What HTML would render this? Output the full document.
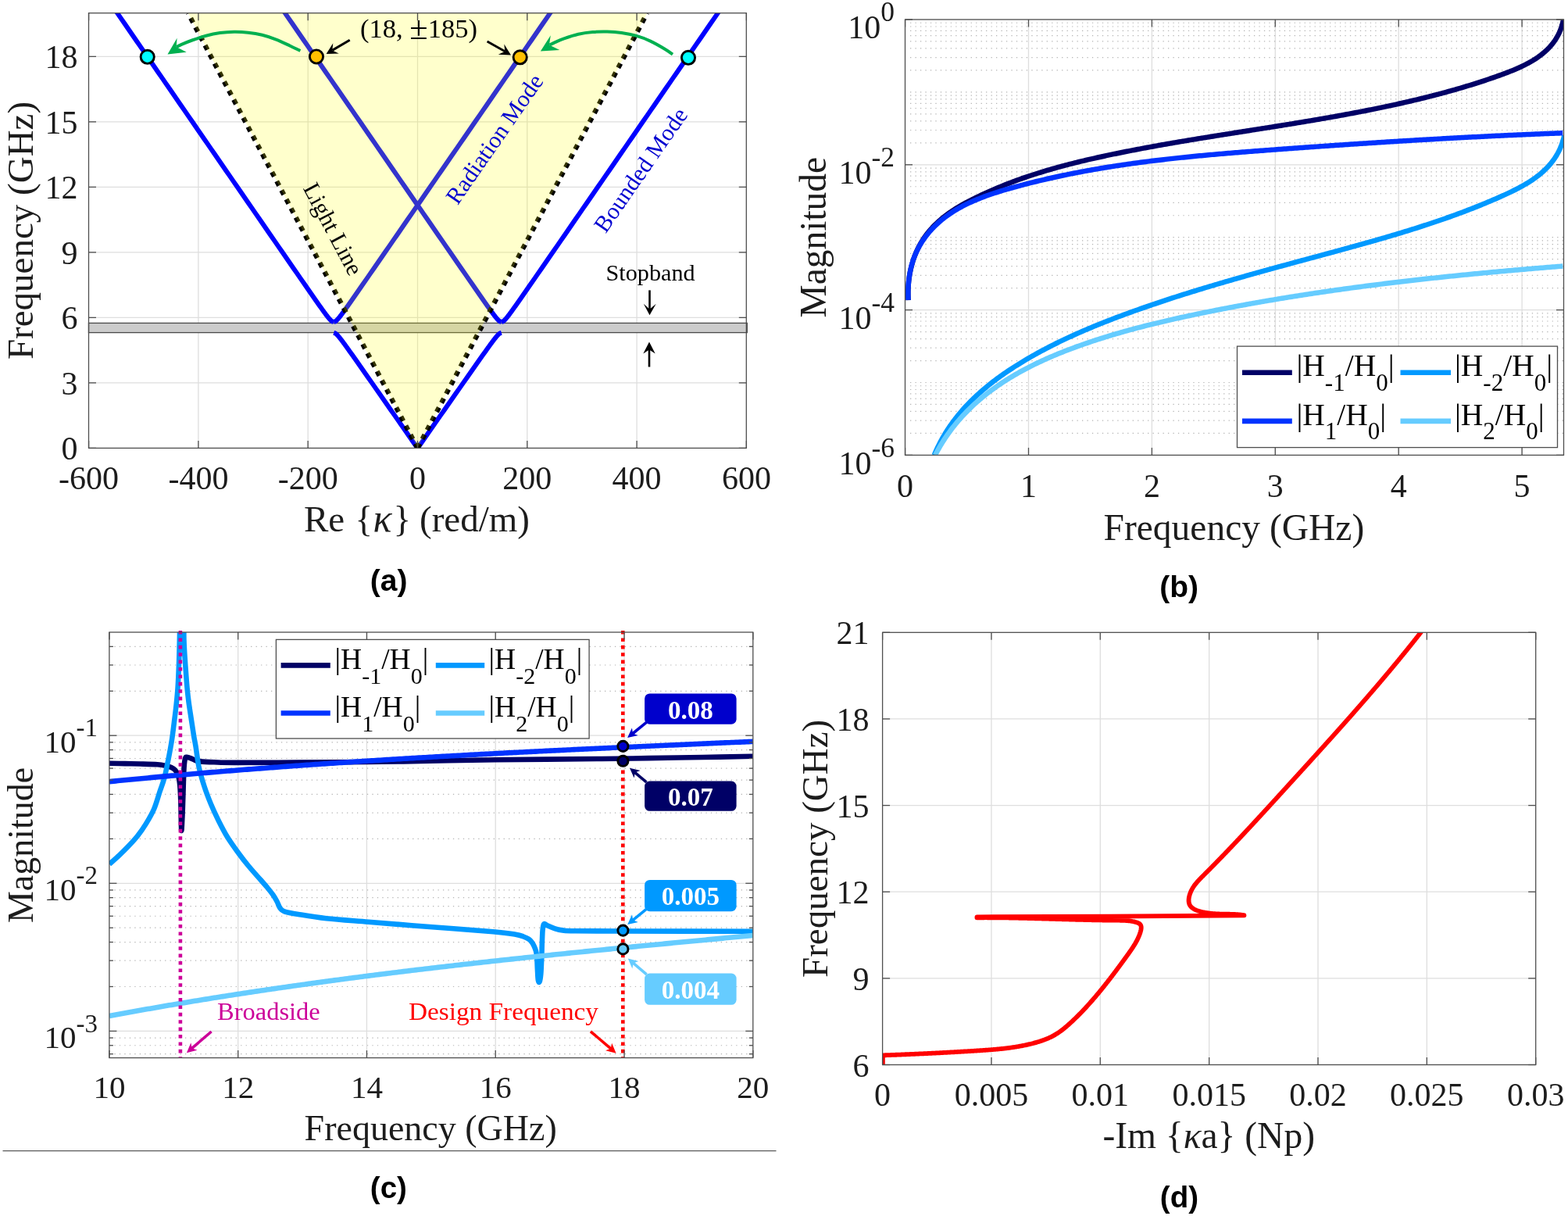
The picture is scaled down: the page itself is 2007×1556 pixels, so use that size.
<!DOCTYPE html>
<html><head><meta charset="utf-8"><title>Figure</title>
<style>html,body{margin:0;padding:0;background:#fff;}svg{display:block;}</style>
</head><body>
<svg xmlns="http://www.w3.org/2000/svg" width="2007" height="1556" viewBox="0 0 2007 1556">
<rect width="2007" height="1556" fill="#fff"/>
<clipPath id="ca"><rect x="113.5" y="16.7" width="841.8" height="556.7"/></clipPath>
<line x1="253.9" y1="16.7" x2="253.9" y2="573.4" stroke="#dedede" stroke-width="1.3" />
<line x1="394.2" y1="16.7" x2="394.2" y2="573.4" stroke="#dedede" stroke-width="1.3" />
<line x1="534.5" y1="16.7" x2="534.5" y2="573.4" stroke="#dedede" stroke-width="1.3" />
<line x1="674.8" y1="16.7" x2="674.8" y2="573.4" stroke="#dedede" stroke-width="1.3" />
<line x1="815.1" y1="16.7" x2="815.1" y2="573.4" stroke="#dedede" stroke-width="1.3" />
<line x1="113.5" y1="489.89" x2="955.3" y2="489.89" stroke="#dedede" stroke-width="1.3" />
<line x1="113.5" y1="406.39" x2="955.3" y2="406.39" stroke="#dedede" stroke-width="1.3" />
<line x1="113.5" y1="322.88" x2="955.3" y2="322.88" stroke="#dedede" stroke-width="1.3" />
<line x1="113.5" y1="239.38" x2="955.3" y2="239.38" stroke="#dedede" stroke-width="1.3" />
<line x1="113.5" y1="155.88" x2="955.3" y2="155.88" stroke="#dedede" stroke-width="1.3" />
<line x1="113.5" y1="72.37" x2="955.3" y2="72.37" stroke="#dedede" stroke-width="1.3" />
<rect x="113.5" y="413.4" width="842.8" height="12.2" fill="#cccccc" stroke="#4a4a4a" stroke-width="1.3"/>
<path d="M641.83 411.96 L643.69 411.4 L644.52 410.84 L645.19 410.29 L645.78 409.73 L646.33 409.17 L646.85 408.62 L647.34 408.06 L647.83 407.5 L648.29 406.95 L648.75 406.39 L649.2 405.83 L649.64 405.28 L650.08 404.72 L650.51 404.16 L650.93 403.61 L651.36 403.05 L651.78 402.49 L652.19 401.94 L652.61 401.38 L653.02 400.82 L653.43 400.27 L653.84 399.71 L654.25 399.15 L654.66 398.6 L655.06 398.04 L655.46 397.48 L655.87 396.93 L656.27 396.37 L656.67 395.81 L657.07 395.26 L657.47 394.7 L657.86 394.14 L658.26 393.59 L658.66 393.03 L659.05 392.47 L659.45 391.92 L664.36 384.96 L669.24 378 L674.09 371.04 L678.93 364.08 L683.76 357.12 L688.58 350.16 L693.4 343.2 L698.22 336.25 L703.03 329.29 L707.85 322.33 L712.66 315.37 L717.47 308.41 L722.28 301.45 L727.09 294.49 L731.89 287.53 L736.7 280.58 L741.51 273.62 L746.31 266.66 L751.12 259.7 L755.92 252.74 L760.73 245.78 L765.53 238.82 L770.34 231.86 L775.14 224.91 L779.95 217.95 L784.75 210.99 L789.56 204.03 L794.36 197.07 L799.16 190.11 L803.97 183.15 L808.77 176.19 L813.57 169.24 L818.38 162.28 L823.18 155.32 L827.98 148.36 L832.79 141.4 L837.59 134.44 L842.39 127.48 L847.19 120.52 L852 113.57 L856.8 106.61 L861.6 99.65 L866.41 92.69 L871.21 85.73 L876.01 78.77 L880.81 71.81 L885.62 64.85 L890.42 57.9 L895.22 50.94 L900.02 43.98 L904.83 37.02 L909.63 30.06 L914.43 23.1 L919.23 16.14 L924.03 9.18 L928.84 2.23" fill="none" stroke="#0000ff" stroke-width="6" clip-path="url(#ca)" stroke-linejoin="round"/>
<path d="M427.17 411.96 L425.31 411.4 L424.48 410.84 L423.81 410.29 L423.22 409.73 L422.67 409.17 L422.15 408.62 L421.66 408.06 L421.17 407.5 L420.71 406.95 L420.25 406.39 L419.8 405.83 L419.36 405.28 L418.92 404.72 L418.49 404.16 L418.07 403.61 L417.64 403.05 L417.22 402.49 L416.81 401.94 L416.39 401.38 L415.98 400.82 L415.57 400.27 L415.16 399.71 L414.75 399.15 L414.34 398.6 L413.94 398.04 L413.54 397.48 L413.13 396.93 L412.73 396.37 L412.33 395.81 L411.93 395.26 L411.53 394.7 L411.14 394.14 L410.74 393.59 L410.34 393.03 L409.95 392.47 L409.55 391.92 L404.64 384.96 L399.76 378 L394.91 371.04 L390.07 364.08 L385.24 357.12 L380.42 350.16 L375.6 343.2 L370.78 336.25 L365.97 329.29 L361.15 322.33 L356.34 315.37 L351.53 308.41 L346.72 301.45 L341.91 294.49 L337.11 287.53 L332.3 280.58 L327.49 273.62 L322.69 266.66 L317.88 259.7 L313.08 252.74 L308.27 245.78 L303.47 238.82 L298.66 231.86 L293.86 224.91 L289.05 217.95 L284.25 210.99 L279.44 204.03 L274.64 197.07 L269.84 190.11 L265.03 183.15 L260.23 176.19 L255.43 169.24 L250.62 162.28 L245.82 155.32 L241.02 148.36 L236.21 141.4 L231.41 134.44 L226.61 127.48 L221.81 120.52 L217 113.57 L212.2 106.61 L207.4 99.65 L202.59 92.69 L197.79 85.73 L192.99 78.77 L188.19 71.81 L183.38 64.85 L178.58 57.9 L173.78 50.94 L168.98 43.98 L164.17 37.02 L159.37 30.06 L154.57 23.1 L149.77 16.14 L144.97 9.18 L140.16 2.23" fill="none" stroke="#0000ff" stroke-width="6" clip-path="url(#ca)" stroke-linejoin="round"/>
<path d="M427.17 411.96 L429.03 411.4 L429.86 410.84 L430.53 410.29 L431.12 409.73 L431.67 409.17 L432.19 408.62 L432.69 408.06 L433.17 407.5 L433.63 406.95 L434.09 406.39 L434.54 405.83 L434.98 405.28 L435.42 404.72 L435.85 404.16 L436.28 403.61 L436.7 403.05 L437.12 402.49 L437.54 401.94 L437.95 401.38 L438.36 400.82 L438.77 400.27 L439.18 399.71 L439.59 399.15 L440 398.6 L440.4 398.04 L440.8 397.48 L441.21 396.93 L441.61 396.37 L442.01 395.81 L442.41 395.26 L442.81 394.7 L443.21 394.14 L443.6 393.59 L444 393.03 L444.4 392.47 L444.79 391.92 L449.7 384.96 L454.58 378 L459.43 371.04 L464.27 364.08 L469.1 357.12 L473.92 350.16 L478.74 343.2 L483.56 336.25 L488.38 329.29 L493.19 322.33 L498 315.37 L502.81 308.41 L507.62 301.45 L512.43 294.49 L517.23 287.53 L522.04 280.58 L526.85 273.62 L531.65 266.66 L536.46 259.7 L541.27 252.74 L546.07 245.78 L550.88 238.82 L555.68 231.86 L560.48 224.91 L565.29 217.95 L570.09 210.99 L574.9 204.03 L579.7 197.07 L584.5 190.11 L589.31 183.15 L594.11 176.19 L598.91 169.24 L603.72 162.28 L608.52 155.32 L613.32 148.36 L618.13 141.4 L622.93 134.44 L627.73 127.48 L632.54 120.52 L637.34 113.57 L642.14 106.61 L646.94 99.65 L651.75 92.69 L656.55 85.73 L661.35 78.77 L666.15 71.81 L670.96 64.85 L675.76 57.9 L680.56 50.94 L685.36 43.98 L690.17 37.02 L694.97 30.06 L699.77 23.1 L704.57 16.14 L709.38 9.18 L714.18 2.23" fill="none" stroke="#0000ff" stroke-width="6" clip-path="url(#ca)" stroke-linejoin="round"/>
<path d="M641.83 411.96 L639.97 411.4 L639.14 410.84 L638.47 410.29 L637.88 409.73 L637.33 409.17 L636.81 408.62 L636.31 408.06 L635.83 407.5 L635.37 406.95 L634.91 406.39 L634.46 405.83 L634.02 405.28 L633.58 404.72 L633.15 404.16 L632.72 403.61 L632.3 403.05 L631.88 402.49 L631.46 401.94 L631.05 401.38 L630.64 400.82 L630.23 400.27 L629.82 399.71 L629.41 399.15 L629 398.6 L628.6 398.04 L628.2 397.48 L627.79 396.93 L627.39 396.37 L626.99 395.81 L626.59 395.26 L626.19 394.7 L625.79 394.14 L625.4 393.59 L625 393.03 L624.6 392.47 L624.21 391.92 L619.3 384.96 L614.42 378 L609.57 371.04 L604.73 364.08 L599.9 357.12 L595.08 350.16 L590.26 343.2 L585.44 336.25 L580.62 329.29 L575.81 322.33 L571 315.37 L566.19 308.41 L561.38 301.45 L556.57 294.49 L551.77 287.53 L546.96 280.58 L542.15 273.62 L537.35 266.66 L532.54 259.7 L527.73 252.74 L522.93 245.78 L518.12 238.82 L513.32 231.86 L508.52 224.91 L503.71 217.95 L498.91 210.99 L494.1 204.03 L489.3 197.07 L484.5 190.11 L479.69 183.15 L474.89 176.19 L470.09 169.24 L465.28 162.28 L460.48 155.32 L455.68 148.36 L450.87 141.4 L446.07 134.44 L441.27 127.48 L436.46 120.52 L431.66 113.57 L426.86 106.61 L422.06 99.65 L417.25 92.69 L412.45 85.73 L407.65 78.77 L402.85 71.81 L398.04 64.85 L393.24 57.9 L388.44 50.94 L383.64 43.98 L378.83 37.02 L374.03 30.06 L369.23 23.1 L364.43 16.14 L359.62 9.18 L354.82 2.23" fill="none" stroke="#0000ff" stroke-width="6" clip-path="url(#ca)" stroke-linejoin="round"/>
<path d="M534.65 573.4 L539.5 566.44 L544.36 559.48 L549.22 552.52 L554.08 545.56 L558.94 538.61 L563.81 531.65 L568.67 524.69 L573.53 517.73 L578.4 510.77 L583.26 503.81 L588.13 496.85 L593 489.89 L597.88 482.94 L602.76 475.98 L607.65 469.02 L612.55 462.06 L617.47 455.1 L622.42 448.14 L622.82 447.59 L623.22 447.03 L623.62 446.47 L624.02 445.92 L624.42 445.36 L624.82 444.8 L625.22 444.25 L625.62 443.69 L626.02 443.13 L626.42 442.58 L626.83 442.02 L627.23 441.46 L627.64 440.91 L628.05 440.35 L628.45 439.79 L628.86 439.24 L629.27 438.68 L629.69 438.12 L630.1 437.57 L630.51 437.01 L630.93 436.45 L631.35 435.9 L631.77 435.34 L632.2 434.78 L632.63 434.23 L633.06 433.67 L633.49 433.11 L633.93 432.55 L634.38 432 L634.83 431.44 L635.3 430.88 L635.77 430.33 L636.25 429.77 L636.76 429.21 L637.28 428.66 L637.83 428.1 L638.44 427.54 L639.11 426.99 L639.95 426.43 L641.83 425.87 L641.83 425.87" fill="none" stroke="#0000ff" stroke-width="6" clip-path="url(#ca)" stroke-linejoin="round"/>
<path d="M534.35 573.4 L529.5 566.44 L524.64 559.48 L519.78 552.52 L514.92 545.56 L510.06 538.61 L505.19 531.65 L500.33 524.69 L495.47 517.73 L490.6 510.77 L485.74 503.81 L480.87 496.85 L476 489.89 L471.12 482.94 L466.24 475.98 L461.35 469.02 L456.45 462.06 L451.53 455.1 L446.58 448.14 L446.18 447.59 L445.78 447.03 L445.38 446.47 L444.98 445.92 L444.58 445.36 L444.18 444.8 L443.78 444.25 L443.38 443.69 L442.98 443.13 L442.58 442.58 L442.17 442.02 L441.77 441.46 L441.36 440.91 L440.95 440.35 L440.55 439.79 L440.14 439.24 L439.73 438.68 L439.31 438.12 L438.9 437.57 L438.49 437.01 L438.07 436.45 L437.65 435.9 L437.23 435.34 L436.8 434.78 L436.37 434.23 L435.94 433.67 L435.51 433.11 L435.07 432.55 L434.62 432 L434.17 431.44 L433.7 430.88 L433.23 430.33 L432.75 429.77 L432.24 429.21 L431.72 428.66 L431.17 428.1 L430.56 427.54 L429.89 426.99 L429.05 426.43 L427.17 425.87 L427.17 425.87" fill="none" stroke="#0000ff" stroke-width="6" clip-path="url(#ca)" stroke-linejoin="round"/>
<path d="M534.5 573.4 L240.66 16.7" fill="none" stroke="#000" stroke-width="6.3" stroke-dasharray="6.3 6.8" clip-path="url(#ca)"/>
<path d="M534.5 573.4 L828.34 16.7" fill="none" stroke="#000" stroke-width="6.3" stroke-dasharray="6.3 6.8" clip-path="url(#ca)"/>
<path d="M534.5 573.4 L240.66 16.7 L828.34 16.7 Z" fill="#ffff00" fill-opacity="0.2"/>
<line x1="113.6" y1="573.4" x2="113.6" y2="563.9" stroke="#4e4e4e" stroke-width="1.3" />
<line x1="113.6" y1="16.7" x2="113.6" y2="26.2" stroke="#4e4e4e" stroke-width="1.3" />
<line x1="253.9" y1="573.4" x2="253.9" y2="563.9" stroke="#4e4e4e" stroke-width="1.3" />
<line x1="253.9" y1="16.7" x2="253.9" y2="26.2" stroke="#4e4e4e" stroke-width="1.3" />
<line x1="394.2" y1="573.4" x2="394.2" y2="563.9" stroke="#4e4e4e" stroke-width="1.3" />
<line x1="394.2" y1="16.7" x2="394.2" y2="26.2" stroke="#4e4e4e" stroke-width="1.3" />
<line x1="534.5" y1="573.4" x2="534.5" y2="563.9" stroke="#4e4e4e" stroke-width="1.3" />
<line x1="534.5" y1="16.7" x2="534.5" y2="26.2" stroke="#4e4e4e" stroke-width="1.3" />
<line x1="674.8" y1="573.4" x2="674.8" y2="563.9" stroke="#4e4e4e" stroke-width="1.3" />
<line x1="674.8" y1="16.7" x2="674.8" y2="26.2" stroke="#4e4e4e" stroke-width="1.3" />
<line x1="815.1" y1="573.4" x2="815.1" y2="563.9" stroke="#4e4e4e" stroke-width="1.3" />
<line x1="815.1" y1="16.7" x2="815.1" y2="26.2" stroke="#4e4e4e" stroke-width="1.3" />
<line x1="955.4" y1="573.4" x2="955.4" y2="563.9" stroke="#4e4e4e" stroke-width="1.3" />
<line x1="955.4" y1="16.7" x2="955.4" y2="26.2" stroke="#4e4e4e" stroke-width="1.3" />
<line x1="113.5" y1="573.4" x2="123" y2="573.4" stroke="#4e4e4e" stroke-width="1.3" />
<line x1="955.3" y1="573.4" x2="945.8" y2="573.4" stroke="#4e4e4e" stroke-width="1.3" />
<line x1="113.5" y1="489.89" x2="123" y2="489.89" stroke="#4e4e4e" stroke-width="1.3" />
<line x1="955.3" y1="489.89" x2="945.8" y2="489.89" stroke="#4e4e4e" stroke-width="1.3" />
<line x1="113.5" y1="406.39" x2="123" y2="406.39" stroke="#4e4e4e" stroke-width="1.3" />
<line x1="955.3" y1="406.39" x2="945.8" y2="406.39" stroke="#4e4e4e" stroke-width="1.3" />
<line x1="113.5" y1="322.88" x2="123" y2="322.88" stroke="#4e4e4e" stroke-width="1.3" />
<line x1="955.3" y1="322.88" x2="945.8" y2="322.88" stroke="#4e4e4e" stroke-width="1.3" />
<line x1="113.5" y1="239.38" x2="123" y2="239.38" stroke="#4e4e4e" stroke-width="1.3" />
<line x1="955.3" y1="239.38" x2="945.8" y2="239.38" stroke="#4e4e4e" stroke-width="1.3" />
<line x1="113.5" y1="155.88" x2="123" y2="155.88" stroke="#4e4e4e" stroke-width="1.3" />
<line x1="955.3" y1="155.88" x2="945.8" y2="155.88" stroke="#4e4e4e" stroke-width="1.3" />
<line x1="113.5" y1="72.37" x2="123" y2="72.37" stroke="#4e4e4e" stroke-width="1.3" />
<line x1="955.3" y1="72.37" x2="945.8" y2="72.37" stroke="#4e4e4e" stroke-width="1.3" />
<rect x="113.5" y="16.7" width="841.8" height="556.7" fill="none" stroke="#4e4e4e" stroke-width="1.3"/>
<path d="M384.4 65 C382.23 63.95 376.55 61.1 371.4 58.7 C366.25 56.3 359.47 52.92 353.5 50.6 C347.53 48.28 341.58 46.28 335.6 44.8 C329.62 43.32 323.58 42.37 317.6 41.7 C311.62 41.03 305.68 40.73 299.7 40.8 C293.72 40.87 287.68 41.28 281.7 42.1 C275.72 42.92 269.77 44.13 263.8 45.7 C257.83 47.27 251.13 49.63 245.9 51.5 C240.67 53.37 235.72 55.45 232.4 56.9 C229.08 58.35 227.07 59.65 226 60.2" fill="none" stroke="#00b050" stroke-width="4" />
<path d="M214.5 69.5 L226.6 48.8 L225.7 60 L238.7 66.8 Z" fill="#00b050"/>
<path d="M861 69.6 C859.32 68.45 855.65 65.53 850.9 62.7 C846.15 59.87 838.65 55.43 832.5 52.6 C826.35 49.77 820.15 47.47 814 45.7 C807.85 43.93 801.73 42.85 795.6 42 C789.47 41.15 783.35 40.75 777.2 40.6 C771.05 40.45 764.85 40.57 758.7 41.1 C752.55 41.63 746.43 42.42 740.3 43.8 C734.17 45.18 726.97 47.63 721.9 49.4 C716.83 51.17 712.98 53.03 709.9 54.4 C706.82 55.77 704.48 57.07 703.4 57.6" fill="none" stroke="#00b050" stroke-width="4" />
<path d="M691.9 65.5 L704.8 45.2 L703 57.6 L716.3 64.1 Z" fill="#00b050"/>
<line x1="447.7" y1="51.3" x2="425.3" y2="64.4" stroke="#000" stroke-width="3" />
<path d="M417.6 69.1 L426.3 55.2 L425.3 64.4 L433.8 68.4 Z" fill="#000"/>
<line x1="623.6" y1="53" x2="646.3" y2="65.8" stroke="#000" stroke-width="3" />
<path d="M654 70.5 L645.3 56.6 L646.3 65.8 L637.8 69.8 Z" fill="#000"/>
<circle cx="188.7" cy="72.8" r="8.6" fill="#00ffff" stroke="#000" stroke-width="2.9"/>
<circle cx="881" cy="73.8" r="8.6" fill="#00ffff" stroke="#000" stroke-width="2.9"/>
<circle cx="405" cy="72.5" r="8.6" fill="#ffc000" stroke="#000" stroke-width="2.9"/>
<circle cx="665.7" cy="73.3" r="8.6" fill="#ffc000" stroke="#000" stroke-width="2.9"/>
<line x1="831.5" y1="371.4" x2="831.5" y2="396.5" stroke="#000" stroke-width="2.6" />
<path d="M831.5 403.2 L823.8 388.8 L831.5 395.8 L839.7 388.8 Z" fill="#000"/>
<line x1="831" y1="469.5" x2="831" y2="446.5" stroke="#000" stroke-width="2.6" />
<path d="M831 437.6 L823.3 452.4 L831 447.4 L838.7 452.4 Z" fill="#000"/>
<text x="832.6" y="358.9" font-size="30" text-anchor="middle" fill="#000" font-family="'Liberation Serif','Times New Roman',serif" font-weight="normal" textLength="114" lengthAdjust="spacingAndGlyphs">Stopband</text>
<text x="536" y="47.9" font-size="34" text-anchor="middle" fill="#000" font-family="'Liberation Serif','Times New Roman',serif" font-weight="normal" textLength="150" lengthAdjust="spacingAndGlyphs">(18, <tspan font-size="42" dy="2.5">&#177;</tspan><tspan dy="-2.5">185)</tspan></text>
<text x="417.46" y="297.74" font-size="30.3" text-anchor="middle" fill="#000" font-family="'Liberation Serif','Times New Roman',serif" transform="rotate(62.2 417.46 297.74)" >Light Line</text>
<text x="641.09" y="183.44" font-size="30" text-anchor="middle" fill="#0000d0" font-family="'Liberation Serif','Times New Roman',serif" transform="rotate(-55.2 641.09 183.44)" >Radiation Mode</text>
<text x="828.29" y="223.14" font-size="30" text-anchor="middle" fill="#0000d0" font-family="'Liberation Serif','Times New Roman',serif" transform="rotate(-55.2 828.29 223.14)" >Bounded Mode</text>
<text x="113.6" y="625.6" font-size="42" text-anchor="middle" fill="#1c1c1c" font-family="'Liberation Serif','Times New Roman',serif" font-weight="normal" >-600</text>
<text x="253.9" y="625.6" font-size="42" text-anchor="middle" fill="#1c1c1c" font-family="'Liberation Serif','Times New Roman',serif" font-weight="normal" >-400</text>
<text x="394.2" y="625.6" font-size="42" text-anchor="middle" fill="#1c1c1c" font-family="'Liberation Serif','Times New Roman',serif" font-weight="normal" >-200</text>
<text x="534.5" y="625.6" font-size="42" text-anchor="middle" fill="#1c1c1c" font-family="'Liberation Serif','Times New Roman',serif" font-weight="normal" >0</text>
<text x="674.8" y="625.6" font-size="42" text-anchor="middle" fill="#1c1c1c" font-family="'Liberation Serif','Times New Roman',serif" font-weight="normal" >200</text>
<text x="815.1" y="625.6" font-size="42" text-anchor="middle" fill="#1c1c1c" font-family="'Liberation Serif','Times New Roman',serif" font-weight="normal" >400</text>
<text x="955.4" y="625.6" font-size="42" text-anchor="middle" fill="#1c1c1c" font-family="'Liberation Serif','Times New Roman',serif" font-weight="normal" >600</text>
<text x="99.5" y="588.4" font-size="42" text-anchor="end" fill="#1c1c1c" font-family="'Liberation Serif','Times New Roman',serif" font-weight="normal" >0</text>
<text x="99.5" y="504.89" font-size="42" text-anchor="end" fill="#1c1c1c" font-family="'Liberation Serif','Times New Roman',serif" font-weight="normal" >3</text>
<text x="99.5" y="421.39" font-size="42" text-anchor="end" fill="#1c1c1c" font-family="'Liberation Serif','Times New Roman',serif" font-weight="normal" >6</text>
<text x="99.5" y="337.88" font-size="42" text-anchor="end" fill="#1c1c1c" font-family="'Liberation Serif','Times New Roman',serif" font-weight="normal" >9</text>
<text x="99.5" y="254.38" font-size="42" text-anchor="end" fill="#1c1c1c" font-family="'Liberation Serif','Times New Roman',serif" font-weight="normal" >12</text>
<text x="99.5" y="170.88" font-size="42" text-anchor="end" fill="#1c1c1c" font-family="'Liberation Serif','Times New Roman',serif" font-weight="normal" >15</text>
<text x="99.5" y="87.37" font-size="42" text-anchor="end" fill="#1c1c1c" font-family="'Liberation Serif','Times New Roman',serif" font-weight="normal" >18</text>
<text x="41.6" y="295" font-size="47" text-anchor="middle" fill="#1c1c1c" font-family="'Liberation Serif','Times New Roman',serif" font-weight="normal" transform="rotate(-90 41.6 295)">Frequency (GHz)</text>
<text x="389" y="680.2" font-size="47" text-anchor="start" fill="#1c1c1c" font-family="'Liberation Serif','Times New Roman',serif" font-weight="normal" >Re<tspan x="454.5">{</tspan><tspan x="477.5" font-style="italic" font-size="50">&#954;</tspan><tspan x="503.5">}</tspan><tspan x="537.0">(red/m)</tspan></text>
<text x="497.6" y="755.7" font-size="39" text-anchor="middle" fill="#000" font-family="'Liberation Sans',Arial,sans-serif" font-weight="bold" >(a)</text>
<clipPath id="cb"><rect x="1158.5" y="25" width="843" height="557.4"/></clipPath>
<line x1="1316.5" y1="25" x2="1316.5" y2="582.4" stroke="#dedede" stroke-width="1.3" />
<line x1="1474.4" y1="25" x2="1474.4" y2="582.4" stroke="#dedede" stroke-width="1.3" />
<line x1="1632.3" y1="25" x2="1632.3" y2="582.4" stroke="#dedede" stroke-width="1.3" />
<line x1="1790.2" y1="25" x2="1790.2" y2="582.4" stroke="#dedede" stroke-width="1.3" />
<line x1="1948.1" y1="25" x2="1948.1" y2="582.4" stroke="#dedede" stroke-width="1.3" />
<line x1="1158.5" y1="210.8" x2="2001.5" y2="210.8" stroke="#dedede" stroke-width="1.3" />
<line x1="1158.5" y1="396.6" x2="2001.5" y2="396.6" stroke="#dedede" stroke-width="1.3" />
<line x1="1165" y1="554.43" x2="2001.5" y2="554.43" stroke="#b4b4b4" stroke-width="1.2" stroke-dasharray="1.3 5.17"/>
<line x1="1165" y1="538.08" x2="2001.5" y2="538.08" stroke="#b4b4b4" stroke-width="1.2" stroke-dasharray="1.3 5.17"/>
<line x1="1165" y1="526.47" x2="2001.5" y2="526.47" stroke="#b4b4b4" stroke-width="1.2" stroke-dasharray="1.3 5.17"/>
<line x1="1165" y1="517.47" x2="2001.5" y2="517.47" stroke="#b4b4b4" stroke-width="1.2" stroke-dasharray="1.3 5.17"/>
<line x1="1165" y1="510.11" x2="2001.5" y2="510.11" stroke="#b4b4b4" stroke-width="1.2" stroke-dasharray="1.3 5.17"/>
<line x1="1165" y1="503.89" x2="2001.5" y2="503.89" stroke="#b4b4b4" stroke-width="1.2" stroke-dasharray="1.3 5.17"/>
<line x1="1165" y1="498.5" x2="2001.5" y2="498.5" stroke="#b4b4b4" stroke-width="1.2" stroke-dasharray="1.3 5.17"/>
<line x1="1165" y1="493.75" x2="2001.5" y2="493.75" stroke="#b4b4b4" stroke-width="1.2" stroke-dasharray="1.3 5.17"/>
<line x1="1165" y1="489.5" x2="2001.5" y2="489.5" stroke="#b4b4b4" stroke-width="1.2" stroke-dasharray="1.3 5.17"/>
<line x1="1165" y1="461.53" x2="2001.5" y2="461.53" stroke="#b4b4b4" stroke-width="1.2" stroke-dasharray="1.3 5.17"/>
<line x1="1165" y1="445.18" x2="2001.5" y2="445.18" stroke="#b4b4b4" stroke-width="1.2" stroke-dasharray="1.3 5.17"/>
<line x1="1165" y1="433.57" x2="2001.5" y2="433.57" stroke="#b4b4b4" stroke-width="1.2" stroke-dasharray="1.3 5.17"/>
<line x1="1165" y1="424.57" x2="2001.5" y2="424.57" stroke="#b4b4b4" stroke-width="1.2" stroke-dasharray="1.3 5.17"/>
<line x1="1165" y1="417.21" x2="2001.5" y2="417.21" stroke="#b4b4b4" stroke-width="1.2" stroke-dasharray="1.3 5.17"/>
<line x1="1165" y1="410.99" x2="2001.5" y2="410.99" stroke="#b4b4b4" stroke-width="1.2" stroke-dasharray="1.3 5.17"/>
<line x1="1165" y1="405.6" x2="2001.5" y2="405.6" stroke="#b4b4b4" stroke-width="1.2" stroke-dasharray="1.3 5.17"/>
<line x1="1165" y1="400.85" x2="2001.5" y2="400.85" stroke="#b4b4b4" stroke-width="1.2" stroke-dasharray="1.3 5.17"/>
<line x1="1165" y1="368.63" x2="2001.5" y2="368.63" stroke="#b4b4b4" stroke-width="1.2" stroke-dasharray="1.3 5.17"/>
<line x1="1165" y1="352.28" x2="2001.5" y2="352.28" stroke="#b4b4b4" stroke-width="1.2" stroke-dasharray="1.3 5.17"/>
<line x1="1165" y1="340.67" x2="2001.5" y2="340.67" stroke="#b4b4b4" stroke-width="1.2" stroke-dasharray="1.3 5.17"/>
<line x1="1165" y1="331.67" x2="2001.5" y2="331.67" stroke="#b4b4b4" stroke-width="1.2" stroke-dasharray="1.3 5.17"/>
<line x1="1165" y1="324.31" x2="2001.5" y2="324.31" stroke="#b4b4b4" stroke-width="1.2" stroke-dasharray="1.3 5.17"/>
<line x1="1165" y1="318.09" x2="2001.5" y2="318.09" stroke="#b4b4b4" stroke-width="1.2" stroke-dasharray="1.3 5.17"/>
<line x1="1165" y1="312.7" x2="2001.5" y2="312.7" stroke="#b4b4b4" stroke-width="1.2" stroke-dasharray="1.3 5.17"/>
<line x1="1165" y1="307.95" x2="2001.5" y2="307.95" stroke="#b4b4b4" stroke-width="1.2" stroke-dasharray="1.3 5.17"/>
<line x1="1165" y1="303.7" x2="2001.5" y2="303.7" stroke="#b4b4b4" stroke-width="1.2" stroke-dasharray="1.3 5.17"/>
<line x1="1165" y1="275.73" x2="2001.5" y2="275.73" stroke="#b4b4b4" stroke-width="1.2" stroke-dasharray="1.3 5.17"/>
<line x1="1165" y1="259.38" x2="2001.5" y2="259.38" stroke="#b4b4b4" stroke-width="1.2" stroke-dasharray="1.3 5.17"/>
<line x1="1165" y1="247.77" x2="2001.5" y2="247.77" stroke="#b4b4b4" stroke-width="1.2" stroke-dasharray="1.3 5.17"/>
<line x1="1165" y1="238.77" x2="2001.5" y2="238.77" stroke="#b4b4b4" stroke-width="1.2" stroke-dasharray="1.3 5.17"/>
<line x1="1165" y1="231.41" x2="2001.5" y2="231.41" stroke="#b4b4b4" stroke-width="1.2" stroke-dasharray="1.3 5.17"/>
<line x1="1165" y1="225.19" x2="2001.5" y2="225.19" stroke="#b4b4b4" stroke-width="1.2" stroke-dasharray="1.3 5.17"/>
<line x1="1165" y1="219.8" x2="2001.5" y2="219.8" stroke="#b4b4b4" stroke-width="1.2" stroke-dasharray="1.3 5.17"/>
<line x1="1165" y1="215.05" x2="2001.5" y2="215.05" stroke="#b4b4b4" stroke-width="1.2" stroke-dasharray="1.3 5.17"/>
<line x1="1165" y1="182.83" x2="2001.5" y2="182.83" stroke="#b4b4b4" stroke-width="1.2" stroke-dasharray="1.3 5.17"/>
<line x1="1165" y1="166.48" x2="2001.5" y2="166.48" stroke="#b4b4b4" stroke-width="1.2" stroke-dasharray="1.3 5.17"/>
<line x1="1165" y1="154.87" x2="2001.5" y2="154.87" stroke="#b4b4b4" stroke-width="1.2" stroke-dasharray="1.3 5.17"/>
<line x1="1165" y1="145.87" x2="2001.5" y2="145.87" stroke="#b4b4b4" stroke-width="1.2" stroke-dasharray="1.3 5.17"/>
<line x1="1165" y1="138.51" x2="2001.5" y2="138.51" stroke="#b4b4b4" stroke-width="1.2" stroke-dasharray="1.3 5.17"/>
<line x1="1165" y1="132.29" x2="2001.5" y2="132.29" stroke="#b4b4b4" stroke-width="1.2" stroke-dasharray="1.3 5.17"/>
<line x1="1165" y1="126.9" x2="2001.5" y2="126.9" stroke="#b4b4b4" stroke-width="1.2" stroke-dasharray="1.3 5.17"/>
<line x1="1165" y1="122.15" x2="2001.5" y2="122.15" stroke="#b4b4b4" stroke-width="1.2" stroke-dasharray="1.3 5.17"/>
<line x1="1165" y1="117.9" x2="2001.5" y2="117.9" stroke="#b4b4b4" stroke-width="1.2" stroke-dasharray="1.3 5.17"/>
<line x1="1165" y1="89.93" x2="2001.5" y2="89.93" stroke="#b4b4b4" stroke-width="1.2" stroke-dasharray="1.3 5.17"/>
<line x1="1165" y1="73.58" x2="2001.5" y2="73.58" stroke="#b4b4b4" stroke-width="1.2" stroke-dasharray="1.3 5.17"/>
<line x1="1165" y1="61.97" x2="2001.5" y2="61.97" stroke="#b4b4b4" stroke-width="1.2" stroke-dasharray="1.3 5.17"/>
<line x1="1165" y1="52.97" x2="2001.5" y2="52.97" stroke="#b4b4b4" stroke-width="1.2" stroke-dasharray="1.3 5.17"/>
<line x1="1165" y1="45.61" x2="2001.5" y2="45.61" stroke="#b4b4b4" stroke-width="1.2" stroke-dasharray="1.3 5.17"/>
<line x1="1165" y1="39.39" x2="2001.5" y2="39.39" stroke="#b4b4b4" stroke-width="1.2" stroke-dasharray="1.3 5.17"/>
<line x1="1165" y1="34" x2="2001.5" y2="34" stroke="#b4b4b4" stroke-width="1.2" stroke-dasharray="1.3 5.17"/>
<line x1="1165" y1="29.25" x2="2001.5" y2="29.25" stroke="#b4b4b4" stroke-width="1.2" stroke-dasharray="1.3 5.17"/>
<path d="M1162.62 384.11 L1162.48 381.57 L1162.4 379.03 L1162.35 376.49 L1162.35 373.96 L1162.4 371.43 L1162.48 368.9 L1162.61 366.39 L1162.79 363.87 L1163.01 361.37 L1163.27 358.88 L1163.58 356.39 L1163.93 353.92 L1164.32 351.46 L1164.76 349.01 L1165.25 346.58 L1165.77 344.16 L1166.35 341.76 L1166.96 339.37 L1167.62 337.01 L1168.33 334.66 L1169.08 332.33 L1169.87 330.02 L1170.71 327.74 L1171.59 325.48 L1172.52 323.24 L1173.49 321.03 L1174.51 318.84 L1175.57 316.68 L1176.67 314.55 L1177.82 312.44 L1179.02 310.37 L1180.26 308.33 L1181.54 306.31 L1182.87 304.33 L1184.24 302.38 L1185.65 300.46 L1187.1 298.57 L1188.59 296.71 L1190.12 294.89 L1191.68 293.09 L1193.28 291.32 L1194.92 289.59 L1196.6 287.88 L1198.3 286.2 L1200.04 284.55 L1201.81 282.94 L1203.62 281.35 L1205.45 279.79 L1207.31 278.27 L1209.2 276.77 L1211.11 275.3 L1213.06 273.86 L1215.02 272.45 L1217.02 271.06 L1219.03 269.71 L1221.07 268.38 L1223.12 267.07 L1225.2 265.79 L1227.3 264.54 L1229.41 263.3 L1231.54 262.08 L1233.68 260.89 L1235.84 259.71 L1238.01 258.55 L1240.19 257.41 L1242.38 256.28 L1244.58 255.16 L1246.78 254.06 L1249 252.98 L1251.22 251.9 L1253.45 250.83 L1255.68 249.78 L1257.91 248.74 L1260.15 247.7 L1262.4 246.68 L1264.64 245.67 L1266.9 244.67 L1269.16 243.68 L1271.42 242.7 L1273.68 241.73 L1275.95 240.77 L1278.22 239.82 L1280.5 238.88 L1282.78 237.95 L1285.06 237.04 L1287.34 236.13 L1289.63 235.23 L1291.92 234.35 L1294.22 233.47 L1296.51 232.61 L1298.81 231.75 L1301.11 230.91 L1303.41 230.07 L1305.72 229.24 L1308.02 228.43 L1310.33 227.62 L1312.64 226.83 L1314.95 226.04 L1317.27 225.26 L1319.58 224.49 L1321.9 223.73 L1324.22 222.98 L1326.54 222.24 L1328.86 221.51 L1331.19 220.78 L1333.52 220.06 L1335.84 219.36 L1338.17 218.66 L1340.51 217.96 L1342.84 217.28 L1345.18 216.6 L1347.51 215.93 L1349.85 215.27 L1352.19 214.61 L1354.53 213.97 L1356.88 213.33 L1359.22 212.69 L1361.57 212.07 L1363.91 211.44 L1366.26 210.83 L1368.61 210.22 L1370.97 209.62 L1373.32 209.03 L1375.67 208.44 L1378.03 207.85 L1380.39 207.27 L1382.75 206.7 L1385.11 206.13 L1387.47 205.57 L1389.83 205.02 L1392.2 204.46 L1394.56 203.92 L1396.93 203.38 L1399.29 202.84 L1401.66 202.3 L1404.03 201.78 L1406.4 201.25 L1408.78 200.73 L1411.15 200.21 L1413.52 199.7 L1415.9 199.19 L1418.27 198.69 L1420.65 198.19 L1423.03 197.69 L1425.41 197.19 L1427.79 196.7 L1430.17 196.21 L1432.55 195.72 L1434.93 195.24 L1437.32 194.76 L1439.7 194.29 L1442.09 193.81 L1444.47 193.34 L1446.86 192.87 L1449.25 192.41 L1451.64 191.95 L1454.03 191.49 L1456.42 191.03 L1458.81 190.57 L1461.2 190.12 L1463.59 189.67 L1465.98 189.23 L1468.38 188.78 L1470.77 188.34 L1473.17 187.9 L1475.56 187.46 L1477.96 187.03 L1480.36 186.6 L1482.76 186.17 L1485.15 185.74 L1487.55 185.31 L1489.95 184.89 L1492.35 184.46 L1494.75 184.04 L1497.16 183.63 L1499.56 183.21 L1501.96 182.79 L1504.36 182.38 L1506.77 181.97 L1509.17 181.56 L1511.58 181.15 L1513.98 180.75 L1516.39 180.34 L1518.79 179.94 L1521.2 179.54 L1523.61 179.14 L1526.01 178.74 L1528.42 178.34 L1530.83 177.94 L1533.24 177.55 L1535.65 177.15 L1538.06 176.76 L1540.47 176.37 L1542.88 175.98 L1545.29 175.59 L1547.7 175.2 L1550.11 174.81 L1552.52 174.42 L1554.93 174.04 L1557.34 173.65 L1559.75 173.27 L1562.17 172.88 L1564.58 172.5 L1566.99 172.12 L1569.4 171.73 L1571.82 171.35 L1574.23 170.97 L1576.64 170.59 L1579.06 170.21 L1581.47 169.83 L1583.88 169.45 L1586.3 169.07 L1588.71 168.69 L1591.13 168.31 L1593.54 167.93 L1595.95 167.55 L1598.37 167.17 L1600.78 166.79 L1603.19 166.41 L1605.61 166.03 L1608.02 165.65 L1610.44 165.27 L1612.85 164.89 L1615.26 164.51 L1617.68 164.13 L1620.09 163.75 L1622.51 163.37 L1624.92 162.98 L1627.33 162.6 L1629.75 162.22 L1632.16 161.83 L1634.57 161.45 L1636.98 161.06 L1639.4 160.68 L1641.81 160.29 L1644.22 159.9 L1646.63 159.51 L1649.05 159.12 L1651.46 158.73 L1653.87 158.34 L1656.28 157.95 L1658.69 157.55 L1661.1 157.16 L1663.51 156.76 L1665.92 156.36 L1668.33 155.96 L1670.74 155.56 L1673.15 155.16 L1675.56 154.76 L1677.96 154.35 L1680.37 153.94 L1682.78 153.54 L1685.19 153.13 L1687.59 152.71 L1690 152.3 L1692.4 151.89 L1694.81 151.47 L1697.21 151.05 L1699.62 150.63 L1702.02 150.21 L1704.42 149.78 L1706.83 149.36 L1709.23 148.93 L1711.63 148.5 L1714.03 148.06 L1716.43 147.63 L1718.83 147.19 L1721.23 146.75 L1723.63 146.31 L1726.02 145.86 L1728.42 145.42 L1730.82 144.97 L1733.21 144.51 L1735.61 144.06 L1738 143.6 L1740.4 143.14 L1742.79 142.68 L1745.18 142.21 L1747.57 141.75 L1749.96 141.27 L1752.35 140.8 L1754.74 140.32 L1757.13 139.84 L1759.52 139.36 L1761.9 138.87 L1764.29 138.38 L1766.67 137.89 L1769.06 137.39 L1771.44 136.89 L1773.82 136.39 L1776.2 135.89 L1778.59 135.38 L1780.96 134.86 L1783.34 134.35 L1785.72 133.83 L1788.1 133.3 L1790.47 132.78 L1792.85 132.25 L1795.22 131.71 L1797.59 131.17 L1799.97 130.63 L1802.34 130.09 L1804.71 129.54 L1807.07 128.98 L1809.44 128.42 L1811.81 127.86 L1814.17 127.3 L1816.54 126.73 L1818.9 126.15 L1821.26 125.57 L1823.62 124.99 L1825.98 124.4 L1828.34 123.81 L1830.7 123.22 L1833.05 122.62 L1835.41 122.01 L1837.76 121.4 L1840.11 120.79 L1842.46 120.17 L1844.81 119.54 L1847.16 118.91 L1849.51 118.28 L1851.86 117.64 L1854.21 116.99 L1856.55 116.34 L1858.9 115.69 L1861.24 115.03 L1863.58 114.36 L1865.93 113.68 L1868.27 113 L1870.61 112.32 L1872.95 111.63 L1875.29 110.93 L1877.63 110.22 L1879.97 109.51 L1882.31 108.8 L1884.65 108.07 L1886.99 107.34 L1889.32 106.6 L1891.66 105.86 L1894 105.11 L1896.34 104.35 L1898.67 103.58 L1901.01 102.81 L1903.35 102.02 L1905.68 101.23 L1908.02 100.44 L1910.36 99.63 L1912.7 98.82 L1915.03 98 L1917.37 97.17 L1919.71 96.33 L1922.04 95.49 L1924.38 94.63 L1926.71 93.76 L1929.04 92.88 L1931.36 91.99 L1933.67 91.08 L1935.97 90.15 L1938.26 89.2 L1940.54 88.24 L1942.8 87.25 L1945.05 86.25 L1947.28 85.22 L1949.49 84.16 L1951.68 83.08 L1953.85 81.97 L1955.99 80.83 L1958.11 79.67 L1960.2 78.47 L1962.27 77.24 L1964.3 75.97 L1966.3 74.67 L1968.27 73.34 L1970.21 71.96 L1972.11 70.55 L1973.97 69.09 L1975.79 67.6 L1977.57 66.06 L1979.31 64.47 L1981 62.84 L1982.64 61.17 L1984.23 59.44 L1985.77 57.67 L1987.26 55.84 L1988.69 53.97 L1990.06 52.03 L1991.37 50.05 L1992.61 48.01 L1993.79 45.91 L1994.91 43.75 L1995.95 41.53 L1996.92 39.25 L1997.82 36.9 L1998.64 34.5 L1999.38 32.02 L2000.05 29.49 L2000.63 26.88 L2001.12 24.2" fill="none" stroke="#000066" stroke-width="6.5" clip-path="url(#cb)" stroke-linejoin="round"/>
<path d="M1195.72 582.54 L1196.66 580.29 L1197.63 578.06 L1198.62 575.85 L1199.64 573.65 L1200.68 571.48 L1201.74 569.32 L1202.82 567.19 L1203.93 565.07 L1205.06 562.97 L1206.21 560.89 L1207.39 558.83 L1208.58 556.79 L1209.8 554.77 L1211.04 552.76 L1212.3 550.77 L1213.58 548.8 L1214.88 546.85 L1216.2 544.91 L1217.54 542.99 L1218.9 541.09 L1220.28 539.21 L1221.68 537.34 L1223.09 535.49 L1224.53 533.66 L1225.98 531.84 L1227.46 530.04 L1228.94 528.26 L1230.45 526.49 L1231.98 524.73 L1233.52 523 L1235.07 521.27 L1236.65 519.57 L1238.24 517.88 L1239.84 516.2 L1241.46 514.54 L1243.1 512.89 L1244.75 511.26 L1246.42 509.64 L1248.1 508.04 L1249.79 506.45 L1251.5 504.88 L1253.23 503.32 L1254.96 501.77 L1256.71 500.23 L1258.48 498.71 L1260.25 497.21 L1262.04 495.71 L1263.84 494.23 L1265.65 492.77 L1267.47 491.31 L1269.31 489.87 L1271.15 488.44 L1273.01 487.02 L1274.87 485.62 L1276.75 484.22 L1278.64 482.84 L1280.54 481.47 L1282.44 480.11 L1284.36 478.76 L1286.28 477.43 L1288.21 476.1 L1290.16 474.79 L1292.11 473.49 L1294.06 472.19 L1296.03 470.91 L1298 469.64 L1299.98 468.38 L1301.97 467.13 L1303.96 465.89 L1305.96 464.65 L1307.96 463.43 L1309.98 462.22 L1311.99 461.02 L1314.01 459.82 L1316.04 458.64 L1318.07 457.46 L1320.11 456.29 L1322.15 455.13 L1324.19 453.98 L1326.24 452.84 L1328.3 451.71 L1330.36 450.58 L1332.42 449.47 L1334.49 448.36 L1336.56 447.26 L1338.63 446.16 L1340.71 445.08 L1342.8 444 L1344.89 442.93 L1346.98 441.87 L1349.07 440.82 L1351.17 439.77 L1353.28 438.74 L1355.38 437.7 L1357.49 436.68 L1359.61 435.66 L1361.72 434.65 L1363.84 433.65 L1365.97 432.65 L1368.1 431.67 L1370.23 430.68 L1372.36 429.71 L1374.5 428.74 L1376.64 427.78 L1378.78 426.82 L1380.93 425.87 L1383.07 424.93 L1385.23 423.99 L1387.38 423.06 L1389.54 422.13 L1391.7 421.21 L1393.86 420.3 L1396.02 419.39 L1398.19 418.49 L1400.36 417.59 L1402.53 416.7 L1404.71 415.81 L1406.88 414.93 L1409.06 414.06 L1411.24 413.19 L1413.42 412.32 L1415.61 411.46 L1417.8 410.61 L1419.98 409.75 L1422.17 408.91 L1424.36 408.07 L1426.56 407.23 L1428.75 406.4 L1430.95 405.57 L1433.15 404.75 L1435.35 403.93 L1437.55 403.11 L1439.75 402.3 L1441.95 401.49 L1444.16 400.69 L1446.36 399.89 L1448.57 399.09 L1450.78 398.3 L1452.98 397.51 L1455.19 396.72 L1457.4 395.94 L1459.62 395.16 L1461.83 394.39 L1464.04 393.61 L1466.25 392.84 L1468.47 392.08 L1470.68 391.32 L1472.9 390.56 L1475.12 389.8 L1477.34 389.05 L1479.56 388.3 L1481.78 387.55 L1484 386.81 L1486.22 386.07 L1488.44 385.33 L1490.66 384.59 L1492.89 383.86 L1495.11 383.13 L1497.34 382.41 L1499.56 381.68 L1501.79 380.96 L1504.02 380.25 L1506.25 379.53 L1508.47 378.82 L1510.7 378.11 L1512.93 377.4 L1515.17 376.7 L1517.4 375.99 L1519.63 375.29 L1521.86 374.6 L1524.1 373.9 L1526.33 373.21 L1528.57 372.52 L1530.8 371.83 L1533.04 371.15 L1535.28 370.46 L1537.51 369.78 L1539.75 369.1 L1541.99 368.43 L1544.23 367.75 L1546.47 367.08 L1548.71 366.41 L1550.95 365.74 L1553.19 365.07 L1555.44 364.41 L1557.68 363.75 L1559.92 363.08 L1562.17 362.43 L1564.41 361.77 L1566.66 361.11 L1568.9 360.46 L1571.15 359.81 L1573.39 359.16 L1575.64 358.51 L1577.89 357.86 L1580.13 357.22 L1582.38 356.57 L1584.63 355.93 L1586.88 355.29 L1589.13 354.65 L1591.38 354.01 L1593.63 353.37 L1595.88 352.74 L1598.13 352.11 L1600.38 351.47 L1602.63 350.84 L1604.89 350.21 L1607.14 349.58 L1609.39 348.95 L1611.64 348.33 L1613.9 347.7 L1616.15 347.07 L1618.4 346.45 L1620.66 345.83 L1622.91 345.21 L1625.17 344.58 L1627.42 343.96 L1629.68 343.34 L1631.93 342.72 L1634.19 342.11 L1636.45 341.49 L1638.7 340.87 L1640.96 340.26 L1643.22 339.64 L1645.47 339.03 L1647.73 338.41 L1649.99 337.8 L1652.24 337.18 L1654.5 336.57 L1656.76 335.96 L1659.02 335.35 L1661.28 334.73 L1663.53 334.12 L1665.79 333.51 L1668.05 332.9 L1670.31 332.29 L1672.57 331.68 L1674.83 331.07 L1677.08 330.46 L1679.34 329.85 L1681.6 329.24 L1683.86 328.63 L1686.12 328.02 L1688.38 327.41 L1690.64 326.79 L1692.9 326.18 L1695.16 325.57 L1697.42 324.96 L1699.67 324.35 L1701.93 323.74 L1704.19 323.13 L1706.45 322.51 L1708.71 321.9 L1710.97 321.29 L1713.23 320.67 L1715.49 320.06 L1717.74 319.44 L1720 318.83 L1722.26 318.21 L1724.52 317.59 L1726.78 316.97 L1729.03 316.35 L1731.29 315.73 L1733.55 315.11 L1735.8 314.48 L1738.06 313.86 L1740.32 313.23 L1742.57 312.6 L1744.83 311.97 L1747.08 311.34 L1749.34 310.71 L1751.59 310.08 L1753.85 309.44 L1756.1 308.8 L1758.35 308.16 L1760.6 307.52 L1762.86 306.87 L1765.11 306.23 L1767.36 305.58 L1769.61 304.93 L1771.86 304.28 L1774.11 303.62 L1776.35 302.96 L1778.6 302.3 L1780.85 301.64 L1783.1 300.97 L1785.34 300.3 L1787.59 299.63 L1789.83 298.96 L1792.07 298.28 L1794.32 297.6 L1796.56 296.92 L1798.8 296.23 L1801.04 295.54 L1803.28 294.85 L1805.52 294.16 L1807.76 293.46 L1809.99 292.75 L1812.23 292.05 L1814.47 291.34 L1816.7 290.63 L1818.93 289.91 L1821.17 289.19 L1823.4 288.46 L1825.63 287.74 L1827.86 287 L1830.09 286.27 L1832.31 285.53 L1834.54 284.78 L1836.76 284.03 L1838.99 283.28 L1841.21 282.52 L1843.43 281.76 L1845.65 280.99 L1847.87 280.22 L1850.09 279.45 L1852.31 278.67 L1854.52 277.88 L1856.74 277.09 L1858.95 276.3 L1861.16 275.5 L1863.37 274.69 L1865.58 273.88 L1867.79 273.07 L1870 272.25 L1872.2 271.42 L1874.41 270.59 L1876.61 269.75 L1878.81 268.91 L1881.01 268.07 L1883.21 267.21 L1885.4 266.35 L1887.6 265.49 L1889.79 264.62 L1891.98 263.74 L1894.17 262.86 L1896.36 261.97 L1898.55 261.08 L1900.73 260.18 L1902.92 259.27 L1905.1 258.36 L1907.28 257.44 L1909.46 256.52 L1911.64 255.59 L1913.81 254.65 L1915.98 253.7 L1918.16 252.75 L1920.33 251.79 L1922.49 250.83 L1924.66 249.85 L1926.82 248.87 L1928.97 247.88 L1931.12 246.88 L1933.26 245.86 L1935.39 244.83 L1937.5 243.79 L1939.61 242.74 L1941.71 241.67 L1943.79 240.58 L1945.85 239.48 L1947.9 238.36 L1949.93 237.22 L1951.94 236.05 L1953.94 234.87 L1955.91 233.67 L1957.86 232.45 L1959.78 231.2 L1961.69 229.93 L1963.56 228.63 L1965.41 227.3 L1967.23 225.95 L1969.03 224.57 L1970.79 223.17 L1972.52 221.73 L1974.22 220.26 L1975.88 218.76 L1977.51 217.23 L1979.1 215.67 L1980.66 214.07 L1982.18 212.44 L1983.65 210.77 L1985.09 209.06 L1986.49 207.31 L1987.84 205.53 L1989.15 203.71 L1990.41 201.85 L1991.62 199.94 L1992.79 198 L1993.91 196.01 L1994.98 193.97 L1996 191.89 L1996.96 189.77 L1997.88 187.6 L1998.73 185.38 L1999.53 183.11 L2000.28 180.79 L2000.96 178.43 L2001.59 176.01 L2002.15 173.54" fill="none" stroke="#0099ff" stroke-width="6.5" clip-path="url(#cb)" stroke-linejoin="round"/>
<path d="M1162.59 383.89 L1162.47 381.54 L1162.38 379.18 L1162.33 376.82 L1162.32 374.46 L1162.35 372.09 L1162.41 369.72 L1162.51 367.36 L1162.65 364.99 L1162.83 362.63 L1163.05 360.27 L1163.31 357.92 L1163.61 355.57 L1163.95 353.23 L1164.33 350.9 L1164.75 348.58 L1165.21 346.27 L1165.72 343.97 L1166.27 341.68 L1166.86 339.41 L1167.5 337.16 L1168.18 334.92 L1168.9 332.7 L1169.67 330.51 L1170.49 328.33 L1171.35 326.17 L1172.25 324.04 L1173.21 321.93 L1174.21 319.85 L1175.25 317.79 L1176.34 315.76 L1177.47 313.75 L1178.65 311.77 L1179.86 309.82 L1181.12 307.9 L1182.41 306 L1183.75 304.13 L1185.12 302.29 L1186.52 300.48 L1187.96 298.69 L1189.43 296.94 L1190.93 295.21 L1192.47 293.52 L1194.03 291.85 L1195.63 290.22 L1197.25 288.61 L1198.9 287.04 L1200.57 285.5 L1202.27 283.99 L1203.99 282.51 L1205.74 281.06 L1207.5 279.64 L1209.29 278.25 L1211.1 276.89 L1212.94 275.56 L1214.79 274.26 L1216.66 272.99 L1218.56 271.74 L1220.47 270.52 L1222.4 269.32 L1224.35 268.15 L1226.31 267.01 L1228.3 265.89 L1230.3 264.79 L1232.32 263.72 L1234.35 262.67 L1236.4 261.64 L1238.46 260.63 L1240.53 259.64 L1242.62 258.68 L1244.73 257.73 L1246.84 256.81 L1248.97 255.9 L1251.11 255.01 L1253.26 254.14 L1255.43 253.29 L1257.6 252.45 L1259.78 251.63 L1261.97 250.82 L1264.17 250.03 L1266.38 249.26 L1268.59 248.49 L1270.82 247.75 L1273.04 247.01 L1275.28 246.29 L1277.52 245.58 L1279.77 244.88 L1282.02 244.19 L1284.27 243.51 L1286.53 242.84 L1288.8 242.18 L1291.06 241.53 L1293.33 240.88 L1295.6 240.25 L1297.87 239.62 L1300.14 239 L1302.41 238.38 L1304.68 237.77 L1306.95 237.16 L1309.22 236.56 L1311.5 235.97 L1313.77 235.38 L1316.04 234.8 L1318.31 234.22 L1320.59 233.65 L1322.86 233.09 L1325.13 232.53 L1327.41 231.97 L1329.68 231.42 L1331.96 230.88 L1334.23 230.34 L1336.5 229.81 L1338.78 229.28 L1341.05 228.75 L1343.33 228.24 L1345.61 227.73 L1347.88 227.22 L1350.16 226.72 L1352.43 226.22 L1354.71 225.73 L1356.99 225.24 L1359.26 224.76 L1361.54 224.28 L1363.82 223.81 L1366.1 223.34 L1368.38 222.88 L1370.65 222.42 L1372.93 221.96 L1375.21 221.52 L1377.49 221.07 L1379.77 220.63 L1382.05 220.2 L1384.33 219.77 L1386.61 219.34 L1388.89 218.92 L1391.17 218.5 L1393.45 218.09 L1395.73 217.68 L1398.01 217.27 L1400.3 216.87 L1402.58 216.48 L1404.86 216.08 L1407.14 215.7 L1409.42 215.31 L1411.71 214.93 L1413.99 214.56 L1416.27 214.19 L1418.56 213.82 L1420.84 213.45 L1423.13 213.09 L1425.41 212.74 L1427.7 212.39 L1429.98 212.04 L1432.27 211.69 L1434.55 211.35 L1436.84 211.01 L1439.12 210.68 L1441.41 210.35 L1443.7 210.02 L1445.98 209.7 L1448.27 209.38 L1450.56 209.06 L1452.85 208.75 L1455.13 208.44 L1457.42 208.13 L1459.71 207.82 L1462 207.52 L1464.29 207.23 L1466.58 206.93 L1468.87 206.64 L1471.16 206.35 L1473.45 206.07 L1475.74 205.79 L1478.03 205.51 L1480.32 205.23 L1482.61 204.96 L1484.9 204.69 L1487.19 204.42 L1489.49 204.15 L1491.78 203.89 L1494.07 203.63 L1496.36 203.37 L1498.66 203.12 L1500.95 202.87 L1503.24 202.62 L1505.54 202.37 L1507.83 202.12 L1510.13 201.88 L1512.42 201.64 L1514.72 201.4 L1517.01 201.17 L1519.31 200.94 L1521.6 200.7 L1523.9 200.48 L1526.2 200.25 L1528.49 200.02 L1530.79 199.8 L1533.09 199.58 L1535.38 199.36 L1537.68 199.15 L1539.98 198.93 L1542.28 198.72 L1544.58 198.51 L1546.88 198.3 L1549.18 198.09 L1551.48 197.88 L1553.78 197.68 L1556.08 197.48 L1558.38 197.28 L1560.68 197.08 L1562.98 196.88 L1565.28 196.68 L1567.58 196.49 L1569.88 196.29 L1572.19 196.1 L1574.49 195.91 L1576.79 195.72 L1579.1 195.53 L1581.4 195.34 L1583.7 195.16 L1586.01 194.97 L1588.31 194.79 L1590.62 194.61 L1592.92 194.42 L1595.23 194.24 L1597.53 194.06 L1599.84 193.88 L1602.14 193.71 L1604.45 193.53 L1606.76 193.35 L1609.06 193.18 L1611.37 193 L1613.68 192.83 L1615.99 192.65 L1618.3 192.48 L1620.6 192.31 L1622.91 192.13 L1625.22 191.96 L1627.53 191.79 L1629.84 191.62 L1632.15 191.45 L1634.46 191.28 L1636.77 191.11 L1639.08 190.94 L1641.4 190.77 L1643.71 190.6 L1646.02 190.43 L1648.33 190.26 L1650.64 190.09 L1652.96 189.93 L1655.27 189.76 L1657.58 189.59 L1659.9 189.43 L1662.21 189.26 L1664.52 189.09 L1666.84 188.93 L1669.15 188.76 L1671.47 188.6 L1673.78 188.43 L1676.1 188.27 L1678.41 188.11 L1680.73 187.94 L1683.04 187.78 L1685.36 187.62 L1687.68 187.46 L1689.99 187.29 L1692.31 187.13 L1694.63 186.97 L1696.94 186.81 L1699.26 186.65 L1701.58 186.49 L1703.9 186.33 L1706.21 186.17 L1708.53 186.02 L1710.85 185.86 L1713.17 185.7 L1715.49 185.54 L1717.8 185.39 L1720.12 185.23 L1722.44 185.07 L1724.76 184.92 L1727.08 184.76 L1729.4 184.61 L1731.72 184.45 L1734.04 184.3 L1736.36 184.15 L1738.68 183.99 L1740.99 183.84 L1743.31 183.69 L1745.63 183.54 L1747.95 183.39 L1750.27 183.24 L1752.59 183.09 L1754.91 182.94 L1757.23 182.79 L1759.55 182.64 L1761.87 182.49 L1764.19 182.34 L1766.51 182.19 L1768.84 182.05 L1771.16 181.9 L1773.48 181.76 L1775.8 181.61 L1778.12 181.46 L1780.44 181.32 L1782.76 181.18 L1785.08 181.03 L1787.4 180.89 L1789.72 180.75 L1792.04 180.61 L1794.36 180.46 L1796.68 180.32 L1799 180.18 L1801.32 180.04 L1803.64 179.9 L1805.96 179.76 L1808.28 179.63 L1810.6 179.49 L1812.92 179.35 L1815.24 179.21 L1817.56 179.08 L1819.88 178.94 L1822.2 178.81 L1824.52 178.67 L1826.84 178.54 L1829.16 178.4 L1831.48 178.27 L1833.8 178.14 L1836.12 178.01 L1838.44 177.88 L1840.76 177.75 L1843.08 177.62 L1845.4 177.49 L1847.72 177.36 L1850.03 177.23 L1852.35 177.1 L1854.67 176.97 L1856.99 176.85 L1859.31 176.72 L1861.63 176.59 L1863.94 176.47 L1866.26 176.34 L1868.58 176.22 L1870.9 176.1 L1873.21 175.97 L1875.53 175.85 L1877.85 175.73 L1880.17 175.61 L1882.48 175.49 L1884.8 175.37 L1887.11 175.25 L1889.43 175.13 L1891.75 175.01 L1894.06 174.9 L1896.38 174.78 L1898.69 174.66 L1901.01 174.55 L1903.32 174.43 L1905.64 174.32 L1907.95 174.21 L1910.26 174.09 L1912.58 173.98 L1914.89 173.87 L1917.2 173.76 L1919.52 173.65 L1921.83 173.54 L1924.14 173.43 L1926.45 173.32 L1928.77 173.21 L1931.08 173.11 L1933.39 173 L1935.7 172.9 L1938.01 172.79 L1940.32 172.69 L1942.63 172.58 L1944.94 172.48 L1947.25 172.38 L1949.56 172.28 L1951.87 172.18 L1954.18 172.07 L1956.48 171.98 L1958.79 171.88 L1961.1 171.78 L1963.41 171.68 L1965.71 171.58 L1968.02 171.49 L1970.32 171.39 L1972.63 171.3 L1974.93 171.2 L1977.24 171.11 L1979.54 171.02 L1981.85 170.93 L1984.15 170.84 L1986.46 170.75 L1988.76 170.66 L1991.06 170.57 L1993.36 170.48 L1995.66 170.39 L1997.97 170.3 L2000.27 170.22" fill="none" stroke="#0033ff" stroke-width="6.5" clip-path="url(#cb)" stroke-linejoin="round"/>
<path d="M1197.09 582.23 L1198.14 580.22 L1199.21 578.23 L1200.29 576.25 L1201.39 574.29 L1202.51 572.35 L1203.64 570.42 L1204.79 568.51 L1205.95 566.61 L1207.13 564.74 L1208.33 562.87 L1209.54 561.03 L1210.76 559.2 L1212.01 557.39 L1213.26 555.59 L1214.53 553.81 L1215.82 552.04 L1217.12 550.29 L1218.43 548.56 L1219.76 546.84 L1221.1 545.14 L1222.46 543.45 L1223.83 541.77 L1225.22 540.12 L1226.61 538.47 L1228.03 536.84 L1229.45 535.23 L1230.89 533.63 L1232.34 532.05 L1233.8 530.48 L1235.28 528.92 L1236.77 527.38 L1238.27 525.85 L1239.79 524.34 L1241.31 522.84 L1242.85 521.35 L1244.4 519.88 L1245.96 518.42 L1247.54 516.97 L1249.12 515.54 L1250.72 514.12 L1252.33 512.72 L1253.95 511.33 L1255.58 509.95 L1257.22 508.58 L1258.87 507.23 L1260.53 505.89 L1262.21 504.56 L1263.89 503.24 L1265.58 501.94 L1267.29 500.65 L1269 499.37 L1270.73 498.1 L1272.46 496.85 L1274.2 495.61 L1275.95 494.38 L1277.71 493.16 L1279.48 491.95 L1281.26 490.75 L1283.05 489.57 L1284.85 488.39 L1286.65 487.23 L1288.47 486.08 L1290.29 484.94 L1292.12 483.81 L1293.96 482.69 L1295.81 481.59 L1297.66 480.49 L1299.52 479.4 L1301.39 478.33 L1303.27 477.26 L1305.15 476.21 L1307.04 475.16 L1308.94 474.13 L1310.84 473.1 L1312.76 472.09 L1314.67 471.08 L1316.6 470.08 L1318.53 469.1 L1320.46 468.12 L1322.41 467.15 L1324.36 466.19 L1326.31 465.24 L1328.27 464.3 L1330.24 463.37 L1332.21 462.45 L1334.18 461.53 L1336.16 460.63 L1338.15 459.73 L1340.14 458.84 L1342.13 457.96 L1344.13 457.09 L1346.14 456.23 L1348.15 455.37 L1350.16 454.52 L1352.17 453.68 L1354.19 452.85 L1356.22 452.03 L1358.25 451.21 L1360.28 450.4 L1362.31 449.6 L1364.35 448.8 L1366.39 448.01 L1368.43 447.23 L1370.48 446.46 L1372.53 445.69 L1374.58 444.93 L1376.63 444.17 L1378.69 443.43 L1380.74 442.69 L1382.8 441.95 L1384.86 441.22 L1386.93 440.5 L1388.99 439.78 L1391.06 439.07 L1393.12 438.37 L1395.19 437.67 L1397.26 436.98 L1399.33 436.29 L1401.41 435.61 L1403.48 434.93 L1405.56 434.26 L1407.63 433.59 L1409.71 432.93 L1411.79 432.28 L1413.87 431.63 L1415.95 430.99 L1418.03 430.35 L1420.12 429.71 L1422.2 429.09 L1424.29 428.46 L1426.38 427.84 L1428.46 427.23 L1430.55 426.62 L1432.64 426.02 L1434.74 425.42 L1436.83 424.82 L1438.92 424.23 L1441.02 423.65 L1443.11 423.07 L1445.21 422.49 L1447.31 421.92 L1449.41 421.35 L1451.51 420.79 L1453.61 420.23 L1455.71 419.67 L1457.81 419.12 L1459.91 418.57 L1462.02 418.03 L1464.12 417.49 L1466.23 416.96 L1468.33 416.43 L1470.44 415.9 L1472.55 415.37 L1474.66 414.85 L1476.77 414.34 L1478.88 413.82 L1480.99 413.31 L1483.1 412.81 L1485.22 412.31 L1487.33 411.81 L1489.44 411.31 L1491.56 410.82 L1493.67 410.33 L1495.79 409.84 L1497.91 409.36 L1500.02 408.87 L1502.14 408.4 L1504.26 407.92 L1506.38 407.45 L1508.5 406.98 L1510.62 406.51 L1512.74 406.05 L1514.86 405.59 L1516.98 405.13 L1519.1 404.67 L1521.23 404.22 L1523.35 403.76 L1525.47 403.31 L1527.6 402.87 L1529.72 402.42 L1531.84 401.98 L1533.97 401.54 L1536.09 401.1 L1538.22 400.66 L1540.34 400.23 L1542.47 399.79 L1544.6 399.36 L1546.72 398.93 L1548.85 398.5 L1550.98 398.08 L1553.11 397.65 L1555.23 397.23 L1557.36 396.81 L1559.49 396.39 L1561.62 395.98 L1563.75 395.56 L1565.88 395.15 L1568.01 394.74 L1570.14 394.33 L1572.27 393.92 L1574.4 393.52 L1576.53 393.11 L1578.66 392.71 L1580.79 392.31 L1582.92 391.91 L1585.06 391.52 L1587.19 391.12 L1589.32 390.73 L1591.45 390.34 L1593.59 389.95 L1595.72 389.56 L1597.85 389.17 L1599.99 388.79 L1602.12 388.41 L1604.26 388.02 L1606.39 387.65 L1608.53 387.27 L1610.66 386.89 L1612.8 386.52 L1614.93 386.15 L1617.07 385.77 L1619.21 385.41 L1621.34 385.04 L1623.48 384.67 L1625.62 384.31 L1627.75 383.95 L1629.89 383.58 L1632.03 383.23 L1634.17 382.87 L1636.31 382.51 L1638.45 382.16 L1640.59 381.81 L1642.72 381.45 L1644.86 381.1 L1647 380.76 L1649.14 380.41 L1651.28 380.07 L1653.42 379.72 L1655.57 379.38 L1657.71 379.04 L1659.85 378.7 L1661.99 378.37 L1664.13 378.03 L1666.27 377.7 L1668.42 377.36 L1670.56 377.03 L1672.7 376.7 L1674.84 376.38 L1676.99 376.05 L1679.13 375.72 L1681.27 375.4 L1683.42 375.08 L1685.56 374.76 L1687.71 374.44 L1689.85 374.12 L1692 373.81 L1694.14 373.49 L1696.29 373.18 L1698.43 372.87 L1700.58 372.56 L1702.72 372.25 L1704.87 371.94 L1707.02 371.64 L1709.16 371.33 L1711.31 371.03 L1713.46 370.73 L1715.6 370.43 L1717.75 370.13 L1719.9 369.83 L1722.05 369.53 L1724.19 369.24 L1726.34 368.95 L1728.49 368.65 L1730.64 368.36 L1732.79 368.07 L1734.94 367.79 L1737.09 367.5 L1739.23 367.21 L1741.38 366.93 L1743.53 366.65 L1745.68 366.37 L1747.83 366.08 L1749.98 365.81 L1752.14 365.53 L1754.29 365.25 L1756.44 364.98 L1758.59 364.7 L1760.74 364.43 L1762.89 364.16 L1765.04 363.89 L1767.19 363.62 L1769.35 363.35 L1771.5 363.09 L1773.65 362.82 L1775.8 362.56 L1777.96 362.3 L1780.11 362.03 L1782.26 361.77 L1784.41 361.51 L1786.57 361.26 L1788.72 361 L1790.88 360.74 L1793.03 360.49 L1795.18 360.24 L1797.34 359.98 L1799.49 359.73 L1801.65 359.48 L1803.8 359.24 L1805.96 358.99 L1808.11 358.74 L1810.27 358.5 L1812.42 358.25 L1814.58 358.01 L1816.73 357.77 L1818.89 357.53 L1821.04 357.29 L1823.2 357.05 L1825.36 356.81 L1827.51 356.57 L1829.67 356.34 L1831.83 356.1 L1833.98 355.87 L1836.14 355.64 L1838.3 355.41 L1840.45 355.18 L1842.61 354.95 L1844.77 354.72 L1846.93 354.49 L1849.08 354.26 L1851.24 354.04 L1853.4 353.81 L1855.56 353.59 L1857.72 353.37 L1859.87 353.15 L1862.03 352.93 L1864.19 352.71 L1866.35 352.49 L1868.51 352.27 L1870.67 352.05 L1872.83 351.84 L1874.99 351.62 L1877.15 351.41 L1879.3 351.2 L1881.46 350.99 L1883.62 350.77 L1885.78 350.56 L1887.94 350.35 L1890.1 350.15 L1892.26 349.94 L1894.42 349.73 L1896.58 349.53 L1898.74 349.32 L1900.9 349.12 L1903.07 348.91 L1905.23 348.71 L1907.39 348.51 L1909.55 348.31 L1911.71 348.11 L1913.87 347.91 L1916.03 347.71 L1918.19 347.51 L1920.35 347.32 L1922.51 347.12 L1924.68 346.92 L1926.84 346.73 L1929 346.54 L1931.16 346.34 L1933.32 346.15 L1935.48 345.96 L1937.65 345.77 L1939.81 345.58 L1941.97 345.39 L1944.13 345.2 L1946.3 345.01 L1948.46 344.83 L1950.62 344.64 L1952.78 344.45 L1954.95 344.27 L1957.11 344.09 L1959.27 343.9 L1961.43 343.72 L1963.6 343.54 L1965.76 343.36 L1967.92 343.17 L1970.09 342.99 L1972.25 342.81 L1974.41 342.64 L1976.57 342.46 L1978.74 342.28 L1980.9 342.1 L1983.06 341.93 L1985.23 341.75 L1987.39 341.57 L1989.56 341.4 L1991.72 341.23 L1993.88 341.05 L1996.05 340.88 L1998.21 340.71 L2000.37 340.53" fill="none" stroke="#66ccff" stroke-width="6.5" clip-path="url(#cb)" stroke-linejoin="round"/>
<rect x="1583.5" y="443.1" width="410" height="129.5" fill="#fff" stroke="#4e4e4e" stroke-width="1.3"/>
<line x1="1590" y1="476.8" x2="1653.8" y2="476.8" stroke="#000066" stroke-width="6.6" />
<line x1="1792.5" y1="476.8" x2="1857" y2="476.8" stroke="#0099ff" stroke-width="6.6" />
<line x1="1590" y1="538.9" x2="1653.8" y2="538.9" stroke="#0033ff" stroke-width="6.6" />
<line x1="1792.5" y1="538.9" x2="1857" y2="538.9" stroke="#66ccff" stroke-width="6.6" />
<text x="1659.4" y="481.4" font-size="39.5" fill="#000" font-family="'Liberation Serif','Times New Roman',serif">|H<tspan font-size="31" dy="18.3">-1</tspan><tspan dy="-18.3">/H</tspan><tspan font-size="31" dy="18.3">0</tspan><tspan dy="-18.3">|</tspan></text>
<text x="1861.9" y="481.4" font-size="39.5" fill="#000" font-family="'Liberation Serif','Times New Roman',serif">|H<tspan font-size="31" dy="18.3">-2</tspan><tspan dy="-18.3">/H</tspan><tspan font-size="31" dy="18.3">0</tspan><tspan dy="-18.3">|</tspan></text>
<text x="1659.4" y="543.9" font-size="39.5" fill="#000" font-family="'Liberation Serif','Times New Roman',serif">|H<tspan font-size="31" dy="18.3">1</tspan><tspan dy="-18.3">/H</tspan><tspan font-size="31" dy="18.3">0</tspan><tspan dy="-18.3">|</tspan></text>
<text x="1861.9" y="543.9" font-size="39.5" fill="#000" font-family="'Liberation Serif','Times New Roman',serif">|H<tspan font-size="31" dy="18.3">2</tspan><tspan dy="-18.3">/H</tspan><tspan font-size="31" dy="18.3">0</tspan><tspan dy="-18.3">|</tspan></text>
<line x1="1158.6" y1="582.4" x2="1158.6" y2="572.9" stroke="#4e4e4e" stroke-width="1.3" />
<line x1="1158.6" y1="25" x2="1158.6" y2="34.5" stroke="#4e4e4e" stroke-width="1.3" />
<line x1="1316.5" y1="582.4" x2="1316.5" y2="572.9" stroke="#4e4e4e" stroke-width="1.3" />
<line x1="1316.5" y1="25" x2="1316.5" y2="34.5" stroke="#4e4e4e" stroke-width="1.3" />
<line x1="1474.4" y1="582.4" x2="1474.4" y2="572.9" stroke="#4e4e4e" stroke-width="1.3" />
<line x1="1474.4" y1="25" x2="1474.4" y2="34.5" stroke="#4e4e4e" stroke-width="1.3" />
<line x1="1632.3" y1="582.4" x2="1632.3" y2="572.9" stroke="#4e4e4e" stroke-width="1.3" />
<line x1="1632.3" y1="25" x2="1632.3" y2="34.5" stroke="#4e4e4e" stroke-width="1.3" />
<line x1="1790.2" y1="582.4" x2="1790.2" y2="572.9" stroke="#4e4e4e" stroke-width="1.3" />
<line x1="1790.2" y1="25" x2="1790.2" y2="34.5" stroke="#4e4e4e" stroke-width="1.3" />
<line x1="1948.1" y1="582.4" x2="1948.1" y2="572.9" stroke="#4e4e4e" stroke-width="1.3" />
<line x1="1948.1" y1="25" x2="1948.1" y2="34.5" stroke="#4e4e4e" stroke-width="1.3" />
<line x1="1158.5" y1="25" x2="1168" y2="25" stroke="#4e4e4e" stroke-width="1.3" />
<line x1="2001.5" y1="25" x2="1992" y2="25" stroke="#4e4e4e" stroke-width="1.3" />
<line x1="1158.5" y1="210.8" x2="1168" y2="210.8" stroke="#4e4e4e" stroke-width="1.3" />
<line x1="2001.5" y1="210.8" x2="1992" y2="210.8" stroke="#4e4e4e" stroke-width="1.3" />
<line x1="1158.5" y1="396.6" x2="1168" y2="396.6" stroke="#4e4e4e" stroke-width="1.3" />
<line x1="2001.5" y1="396.6" x2="1992" y2="396.6" stroke="#4e4e4e" stroke-width="1.3" />
<line x1="1158.5" y1="582.4" x2="1168" y2="582.4" stroke="#4e4e4e" stroke-width="1.3" />
<line x1="2001.5" y1="582.4" x2="1992" y2="582.4" stroke="#4e4e4e" stroke-width="1.3" />
<rect x="1158.5" y="25" width="843" height="557.4" fill="none" stroke="#4e4e4e" stroke-width="1.3"/>
<text x="1158.6" y="635.9" font-size="42" text-anchor="middle" fill="#1c1c1c" font-family="'Liberation Serif','Times New Roman',serif" font-weight="normal" >0</text>
<text x="1316.5" y="635.9" font-size="42" text-anchor="middle" fill="#1c1c1c" font-family="'Liberation Serif','Times New Roman',serif" font-weight="normal" >1</text>
<text x="1474.4" y="635.9" font-size="42" text-anchor="middle" fill="#1c1c1c" font-family="'Liberation Serif','Times New Roman',serif" font-weight="normal" >2</text>
<text x="1632.3" y="635.9" font-size="42" text-anchor="middle" fill="#1c1c1c" font-family="'Liberation Serif','Times New Roman',serif" font-weight="normal" >3</text>
<text x="1790.2" y="635.9" font-size="42" text-anchor="middle" fill="#1c1c1c" font-family="'Liberation Serif','Times New Roman',serif" font-weight="normal" >4</text>
<text x="1948.1" y="635.9" font-size="42" text-anchor="middle" fill="#1c1c1c" font-family="'Liberation Serif','Times New Roman',serif" font-weight="normal" >5</text>
<text x="1145" y="49.2" font-size="42" text-anchor="end" fill="#1c1c1c" font-family="'Liberation Serif','Times New Roman',serif">10<tspan font-size="35.5" dy="-21.8">0</tspan></text>
<text x="1145" y="235" font-size="42" text-anchor="end" fill="#1c1c1c" font-family="'Liberation Serif','Times New Roman',serif">10<tspan font-size="35.5" dy="-21.8">-2</tspan></text>
<text x="1145" y="420.8" font-size="42" text-anchor="end" fill="#1c1c1c" font-family="'Liberation Serif','Times New Roman',serif">10<tspan font-size="35.5" dy="-21.8">-4</tspan></text>
<text x="1145" y="606.6" font-size="42" text-anchor="end" fill="#1c1c1c" font-family="'Liberation Serif','Times New Roman',serif">10<tspan font-size="35.5" dy="-21.8">-6</tspan></text>
<text x="1057" y="303.7" font-size="47.5" text-anchor="middle" fill="#1c1c1c" font-family="'Liberation Serif','Times New Roman',serif" font-weight="normal" transform="rotate(-90 1057 303.7)">Magnitude</text>
<text x="1579.4" y="691.1" font-size="47.5" text-anchor="middle" fill="#1c1c1c" font-family="'Liberation Serif','Times New Roman',serif" font-weight="normal" >Frequency (GHz)</text>
<text x="1509.2" y="764.4" font-size="39" text-anchor="middle" fill="#000" font-family="'Liberation Sans',Arial,sans-serif" font-weight="bold" >(b)</text>
<clipPath id="cc"><rect x="139.9" y="809" width="823.9" height="544.6"/></clipPath>
<line x1="304.68" y1="809" x2="304.68" y2="1353.6" stroke="#dedede" stroke-width="1.3" />
<line x1="469.46" y1="809" x2="469.46" y2="1353.6" stroke="#dedede" stroke-width="1.3" />
<line x1="634.24" y1="809" x2="634.24" y2="1353.6" stroke="#dedede" stroke-width="1.3" />
<line x1="799.02" y1="809" x2="799.02" y2="1353.6" stroke="#dedede" stroke-width="1.3" />
<line x1="139.9" y1="941.2" x2="963.8" y2="941.2" stroke="#dedede" stroke-width="1.3" />
<line x1="139.9" y1="1130.3" x2="963.8" y2="1130.3" stroke="#dedede" stroke-width="1.3" />
<line x1="139.9" y1="1319.4" x2="963.8" y2="1319.4" stroke="#dedede" stroke-width="1.3" />
<line x1="146.4" y1="1348.69" x2="963.8" y2="1348.69" stroke="#b4b4b4" stroke-width="1.2" stroke-dasharray="1.3 5.17"/>
<line x1="146.4" y1="1337.73" x2="963.8" y2="1337.73" stroke="#b4b4b4" stroke-width="1.2" stroke-dasharray="1.3 5.17"/>
<line x1="146.4" y1="1328.05" x2="963.8" y2="1328.05" stroke="#b4b4b4" stroke-width="1.2" stroke-dasharray="1.3 5.17"/>
<line x1="146.4" y1="1262.48" x2="963.8" y2="1262.48" stroke="#b4b4b4" stroke-width="1.2" stroke-dasharray="1.3 5.17"/>
<line x1="146.4" y1="1229.18" x2="963.8" y2="1229.18" stroke="#b4b4b4" stroke-width="1.2" stroke-dasharray="1.3 5.17"/>
<line x1="146.4" y1="1205.55" x2="963.8" y2="1205.55" stroke="#b4b4b4" stroke-width="1.2" stroke-dasharray="1.3 5.17"/>
<line x1="146.4" y1="1187.22" x2="963.8" y2="1187.22" stroke="#b4b4b4" stroke-width="1.2" stroke-dasharray="1.3 5.17"/>
<line x1="146.4" y1="1172.25" x2="963.8" y2="1172.25" stroke="#b4b4b4" stroke-width="1.2" stroke-dasharray="1.3 5.17"/>
<line x1="146.4" y1="1159.59" x2="963.8" y2="1159.59" stroke="#b4b4b4" stroke-width="1.2" stroke-dasharray="1.3 5.17"/>
<line x1="146.4" y1="1148.63" x2="963.8" y2="1148.63" stroke="#b4b4b4" stroke-width="1.2" stroke-dasharray="1.3 5.17"/>
<line x1="146.4" y1="1138.95" x2="963.8" y2="1138.95" stroke="#b4b4b4" stroke-width="1.2" stroke-dasharray="1.3 5.17"/>
<line x1="146.4" y1="1073.38" x2="963.8" y2="1073.38" stroke="#b4b4b4" stroke-width="1.2" stroke-dasharray="1.3 5.17"/>
<line x1="146.4" y1="1040.08" x2="963.8" y2="1040.08" stroke="#b4b4b4" stroke-width="1.2" stroke-dasharray="1.3 5.17"/>
<line x1="146.4" y1="1016.45" x2="963.8" y2="1016.45" stroke="#b4b4b4" stroke-width="1.2" stroke-dasharray="1.3 5.17"/>
<line x1="146.4" y1="998.12" x2="963.8" y2="998.12" stroke="#b4b4b4" stroke-width="1.2" stroke-dasharray="1.3 5.17"/>
<line x1="146.4" y1="983.15" x2="963.8" y2="983.15" stroke="#b4b4b4" stroke-width="1.2" stroke-dasharray="1.3 5.17"/>
<line x1="146.4" y1="970.49" x2="963.8" y2="970.49" stroke="#b4b4b4" stroke-width="1.2" stroke-dasharray="1.3 5.17"/>
<line x1="146.4" y1="959.53" x2="963.8" y2="959.53" stroke="#b4b4b4" stroke-width="1.2" stroke-dasharray="1.3 5.17"/>
<line x1="146.4" y1="949.85" x2="963.8" y2="949.85" stroke="#b4b4b4" stroke-width="1.2" stroke-dasharray="1.3 5.17"/>
<line x1="146.4" y1="884.28" x2="963.8" y2="884.28" stroke="#b4b4b4" stroke-width="1.2" stroke-dasharray="1.3 5.17"/>
<line x1="146.4" y1="850.98" x2="963.8" y2="850.98" stroke="#b4b4b4" stroke-width="1.2" stroke-dasharray="1.3 5.17"/>
<line x1="146.4" y1="827.35" x2="963.8" y2="827.35" stroke="#b4b4b4" stroke-width="1.2" stroke-dasharray="1.3 5.17"/>
<path d="M139.9 976.8 C143.25 976.85 153.43 976.98 160 977.1 C166.57 977.22 172.38 977.3 179.3 977.5 C186.22 977.7 196.08 977.92 201.5 978.3 C206.92 978.68 208.85 979.18 211.8 979.8 C214.75 980.42 217.1 981.02 219.2 982 C221.3 982.98 222.92 983.98 224.4 985.7 C225.88 987.42 227.12 988.98 228.1 992.3 C229.08 995.62 229.75 999.68 230.3 1005.6 C230.85 1011.52 231.08 1018.32 231.4 1027.8 C231.72 1037.28 231.87 1059.63 232.2 1062.5 C232.53 1065.37 233.05 1052.08 233.4 1045 C233.75 1037.92 233.95 1030.27 234.3 1020 C234.65 1009.73 235.05 991.63 235.5 983.4 C235.95 975.17 236.38 973.02 237 970.6 C237.62 968.18 237.97 968.95 239.2 968.9 C240.43 968.85 242.55 969.6 244.4 970.3 C246.25 971 248.37 972.42 250.3 973.1 C252.23 973.78 252.05 974.03 256 974.4 C259.95 974.77 266.67 975.05 274 975.3 C281.33 975.55 282.33 975.85 300 975.9 C317.67 975.95 351.77 975.75 380 975.6 C408.23 975.45 441.07 975.3 469.4 975 C497.73 974.7 522.6 974.27 550 973.8 C577.4 973.33 597.13 972.67 633.8 972.2 C670.47 971.73 737.3 971.35 770 971 C802.7 970.65 808.33 970.43 830 970.1 C851.67 969.77 877.7 969.38 900 969 C922.3 968.62 953.17 968 963.8 967.8" fill="none" stroke="#000066" stroke-width="6.6" clip-path="url(#cc)" stroke-linejoin="round"/>
<path d="M139.9 1105.8 C142.03 1103.88 148.58 1098.18 152.7 1094.3 C156.82 1090.42 160.65 1086.68 164.6 1082.5 C168.55 1078.32 172.72 1073.88 176.4 1069.2 C180.08 1064.52 183.25 1060.07 186.7 1054.4 C190.15 1048.73 194.13 1042.1 197.1 1035.2 C200.07 1028.3 202.28 1019.65 204.5 1013 C206.72 1006.35 208.57 1002.2 210.4 995.3 C212.23 988.4 213.9 979.73 215.5 971.6 C217.1 963.47 218.77 954.38 220 946.5 C221.23 938.62 221.97 931.72 222.9 924.3 C223.83 916.88 224.82 909.38 225.6 902 C226.38 894.62 227.03 888.67 227.6 880 C228.17 871.33 228.63 860 229 850 C229.37 840 229.57 829.17 229.8 820 C230.03 810.83 229.92 803.33 230.4 795 C230.88 786.67 231.93 770 232.7 770 C233.47 770 234.53 786.67 235 795 C235.47 803.33 235.23 812.33 235.5 820 C235.77 827.67 236.13 833.5 236.6 841 C237.07 848.5 237.78 858.17 238.3 865 C238.82 871.83 239.17 876.5 239.7 882 C240.23 887.5 240.83 892.83 241.5 898 C242.17 903.17 242.95 908 243.7 913 C244.45 918 245.23 923 246 928 C246.77 933 247.53 938.42 248.3 943 C249.07 947.58 249.53 949 250.6 955.5 C251.67 962 252.9 973.58 254.7 982 C256.5 990.42 258.85 998.17 261.4 1006 C263.95 1013.83 267 1021.77 270 1029 C273 1036.23 275.9 1042.4 279.4 1049.4 C282.9 1056.4 286.8 1064.12 291 1071 C295.2 1077.88 300.1 1084.53 304.6 1090.7 C309.1 1096.87 313.22 1102.2 318 1108 C322.78 1113.8 329.3 1120.92 333.3 1125.5 C337.3 1130.08 339.3 1132.22 342 1135.5 C344.7 1138.78 347.42 1142.2 349.5 1145.2 C351.58 1148.2 353 1150.7 354.5 1153.5 C356 1156.3 356.92 1159.87 358.5 1162 C360.08 1164.13 360.1 1164.97 364 1166.3 C367.9 1167.63 372.92 1168.5 381.9 1170 C390.88 1171.5 402.9 1173.67 417.9 1175.3 C432.9 1176.93 449.88 1178.02 471.9 1179.8 C493.92 1181.58 523.43 1183.93 550 1186 C576.57 1188.07 612.97 1190.57 631.3 1192.2 C649.63 1193.83 653.55 1194.75 660 1195.8 C666.45 1196.85 667.18 1197.5 670 1198.5 C672.82 1199.5 675.07 1200.55 676.9 1201.8 C678.73 1203.05 679.88 1204.53 681 1206 C682.12 1207.47 682.77 1208.77 683.6 1210.6 C684.43 1212.43 685.4 1214.6 686 1217 C686.6 1219.4 686.88 1221.17 687.2 1225 C687.52 1228.83 687.63 1235.17 687.9 1240 C688.17 1244.83 688.35 1251.28 688.8 1254 C689.25 1256.72 690.02 1257.63 690.6 1256.3 C691.18 1254.97 691.85 1251.22 692.3 1246 C692.75 1240.78 693.03 1231.83 693.3 1225 C693.57 1218.17 693.68 1210.83 693.9 1205 C694.12 1199.17 694.25 1193.73 694.6 1190 C694.95 1186.27 695.43 1183.83 696 1182.6 C696.57 1181.37 697.25 1182.32 698 1182.6 C698.75 1182.88 698.4 1183.35 700.5 1184.3 C702.6 1185.25 707.35 1187.28 710.6 1188.3 C713.85 1189.32 715.93 1189.92 720 1190.4 C724.07 1190.88 722.13 1191.02 735 1191.2 C747.87 1191.38 759.07 1191.4 797.2 1191.5 C835.33 1191.6 936.03 1191.75 963.8 1191.8" fill="none" stroke="#0099ff" stroke-width="6.6" clip-path="url(#cc)" stroke-linejoin="round"/>
<path d="M139.91 1000.17 L142.66 999.9 L145.41 999.63 L148.16 999.36 L150.91 999.09 L153.66 998.82 L156.41 998.55 L159.16 998.29 L161.91 998.02 L164.65 997.76 L167.4 997.49 L170.15 997.23 L172.9 996.97 L175.65 996.71 L178.4 996.45 L181.15 996.19 L183.9 995.93 L186.65 995.67 L189.4 995.42 L192.15 995.16 L194.9 994.91 L197.65 994.65 L200.4 994.4 L203.15 994.15 L205.9 993.9 L208.65 993.65 L211.4 993.4 L214.15 993.15 L216.9 992.91 L219.66 992.66 L222.41 992.42 L225.16 992.17 L227.91 991.93 L230.66 991.69 L233.41 991.45 L236.16 991.21 L238.91 990.97 L241.66 990.73 L244.41 990.49 L247.17 990.25 L249.92 990.02 L252.67 989.78 L255.42 989.55 L258.17 989.32 L260.92 989.08 L263.67 988.85 L266.43 988.62 L269.18 988.39 L271.93 988.16 L274.68 987.93 L277.43 987.71 L280.19 987.48 L282.94 987.26 L285.69 987.03 L288.44 986.81 L291.19 986.58 L293.95 986.36 L296.7 986.14 L299.45 985.92 L302.2 985.7 L304.96 985.48 L307.71 985.26 L310.46 985.05 L313.21 984.83 L315.97 984.61 L318.72 984.4 L321.47 984.18 L324.23 983.97 L326.98 983.76 L329.73 983.55 L332.48 983.34 L335.24 983.13 L337.99 982.92 L340.74 982.71 L343.5 982.5 L346.25 982.29 L349 982.09 L351.76 981.88 L354.51 981.68 L357.26 981.47 L360.02 981.27 L362.77 981.07 L365.52 980.86 L368.28 980.66 L371.03 980.46 L373.79 980.26 L376.54 980.06 L379.29 979.87 L382.05 979.67 L384.8 979.47 L387.56 979.28 L390.31 979.08 L393.06 978.89 L395.82 978.69 L398.57 978.5 L401.33 978.31 L404.08 978.11 L406.84 977.92 L409.59 977.73 L412.34 977.54 L415.1 977.35 L417.85 977.17 L420.61 976.98 L423.36 976.79 L426.12 976.6 L428.87 976.42 L431.63 976.23 L434.38 976.05 L437.14 975.87 L439.89 975.68 L442.65 975.5 L445.4 975.32 L448.16 975.14 L450.91 974.96 L453.67 974.78 L456.42 974.6 L459.18 974.42 L461.93 974.24 L464.69 974.06 L467.44 973.89 L470.2 973.71 L472.95 973.54 L475.71 973.36 L478.46 973.19 L481.22 973.01 L483.98 972.84 L486.73 972.67 L489.49 972.5 L492.24 972.32 L495 972.15 L497.75 971.98 L500.51 971.81 L503.27 971.64 L506.02 971.48 L508.78 971.31 L511.53 971.14 L514.29 970.97 L517.05 970.81 L519.8 970.64 L522.56 970.48 L525.31 970.31 L528.07 970.15 L530.83 969.99 L533.58 969.82 L536.34 969.66 L539.09 969.5 L541.85 969.34 L544.61 969.18 L547.36 969.02 L550.12 968.86 L552.88 968.7 L555.63 968.54 L558.39 968.38 L561.15 968.22 L563.9 968.07 L566.66 967.91 L569.42 967.75 L572.17 967.6 L574.93 967.44 L577.69 967.29 L580.44 967.13 L583.2 966.98 L585.96 966.83 L588.71 966.67 L591.47 966.52 L594.23 966.37 L596.98 966.22 L599.74 966.07 L602.5 965.92 L605.26 965.77 L608.01 965.62 L610.77 965.47 L613.53 965.32 L616.28 965.17 L619.04 965.02 L621.8 964.87 L624.56 964.73 L627.31 964.58 L630.07 964.44 L632.83 964.29 L635.58 964.14 L638.34 964 L641.1 963.85 L643.86 963.71 L646.61 963.57 L649.37 963.42 L652.13 963.28 L654.89 963.14 L657.64 963 L660.4 962.85 L663.16 962.71 L665.92 962.57 L668.67 962.43 L671.43 962.29 L674.19 962.15 L676.95 962.01 L679.7 961.87 L682.46 961.73 L685.22 961.6 L687.98 961.46 L690.74 961.32 L693.49 961.18 L696.25 961.05 L699.01 960.91 L701.77 960.77 L704.53 960.64 L707.28 960.5 L710.04 960.37 L712.8 960.23 L715.56 960.1 L718.31 959.96 L721.07 959.83 L723.83 959.69 L726.59 959.56 L729.35 959.43 L732.1 959.3 L734.86 959.16 L737.62 959.03 L740.38 958.9 L743.14 958.77 L745.9 958.64 L748.65 958.5 L751.41 958.37 L754.17 958.24 L756.93 958.11 L759.69 957.98 L762.44 957.85 L765.2 957.72 L767.96 957.59 L770.72 957.47 L773.48 957.34 L776.24 957.21 L778.99 957.08 L781.75 956.95 L784.51 956.82 L787.27 956.7 L790.03 956.57 L792.79 956.44 L795.54 956.31 L798.3 956.19 L801.06 956.06 L803.82 955.94 L806.58 955.81 L809.34 955.68 L812.09 955.56 L814.85 955.43 L817.61 955.31 L820.37 955.18 L823.13 955.06 L825.89 954.93 L828.64 954.81 L831.4 954.68 L834.16 954.56 L836.92 954.44 L839.68 954.31 L842.44 954.19 L845.2 954.07 L847.95 953.94 L850.71 953.82 L853.47 953.7 L856.23 953.57 L858.99 953.45 L861.75 953.33 L864.5 953.21 L867.26 953.08 L870.02 952.96 L872.78 952.84 L875.54 952.72 L878.3 952.6 L881.06 952.47 L883.81 952.35 L886.57 952.23 L889.33 952.11 L892.09 951.99 L894.85 951.87 L897.61 951.75 L900.37 951.63 L903.12 951.5 L905.88 951.38 L908.64 951.26 L911.4 951.14 L914.16 951.02 L916.92 950.9 L919.68 950.78 L922.43 950.66 L925.19 950.54 L927.95 950.42 L930.71 950.3 L933.47 950.18 L936.23 950.06 L938.99 949.94 L941.74 949.82 L944.5 949.7 L947.26 949.58 L950.02 949.46 L952.78 949.34 L955.54 949.22 L958.29 949.1 L961.05 948.98 L963.81 948.86" fill="none" stroke="#0033ff" stroke-width="6.6" clip-path="url(#cc)" stroke-linejoin="round"/>
<path d="M139.91 1300.08 L142.65 1299.57 L145.38 1299.06 L148.11 1298.55 L150.85 1298.05 L153.58 1297.54 L156.31 1297.04 L159.05 1296.54 L161.78 1296.04 L164.52 1295.54 L167.25 1295.04 L169.99 1294.55 L172.72 1294.05 L175.46 1293.56 L178.19 1293.07 L180.93 1292.58 L183.66 1292.09 L186.4 1291.61 L189.14 1291.12 L191.87 1290.64 L194.61 1290.16 L197.35 1289.68 L200.08 1289.2 L202.82 1288.72 L205.56 1288.25 L208.3 1287.78 L211.04 1287.3 L213.78 1286.83 L216.51 1286.37 L219.25 1285.9 L221.99 1285.43 L224.73 1284.97 L227.47 1284.51 L230.21 1284.04 L232.95 1283.58 L235.69 1283.13 L238.43 1282.67 L241.17 1282.21 L243.91 1281.76 L246.66 1281.31 L249.4 1280.86 L252.14 1280.41 L254.88 1279.96 L257.62 1279.51 L260.36 1279.07 L263.11 1278.62 L265.85 1278.18 L268.59 1277.74 L271.34 1277.3 L274.08 1276.86 L276.82 1276.42 L279.57 1275.99 L282.31 1275.55 L285.05 1275.12 L287.8 1274.69 L290.54 1274.26 L293.29 1273.83 L296.03 1273.4 L298.78 1272.98 L301.52 1272.55 L304.27 1272.13 L307.01 1271.71 L309.76 1271.29 L312.5 1270.87 L315.25 1270.45 L318 1270.04 L320.74 1269.62 L323.49 1269.21 L326.24 1268.79 L328.98 1268.38 L331.73 1267.97 L334.48 1267.56 L337.23 1267.16 L339.97 1266.75 L342.72 1266.34 L345.47 1265.94 L348.22 1265.54 L350.97 1265.14 L353.72 1264.74 L356.46 1264.34 L359.21 1263.94 L361.96 1263.55 L364.71 1263.15 L367.46 1262.76 L370.21 1262.36 L372.96 1261.97 L375.71 1261.58 L378.46 1261.19 L381.21 1260.81 L383.96 1260.42 L386.71 1260.03 L389.46 1259.65 L392.22 1259.27 L394.97 1258.88 L397.72 1258.5 L400.47 1258.12 L403.22 1257.75 L405.97 1257.37 L408.72 1256.99 L411.48 1256.62 L414.23 1256.24 L416.98 1255.87 L419.73 1255.5 L422.49 1255.13 L425.24 1254.76 L427.99 1254.39 L430.75 1254.02 L433.5 1253.66 L436.25 1253.29 L439.01 1252.93 L441.76 1252.56 L444.51 1252.2 L447.27 1251.84 L450.02 1251.48 L452.78 1251.12 L455.53 1250.76 L458.29 1250.41 L461.04 1250.05 L463.8 1249.7 L466.55 1249.34 L469.31 1248.99 L472.06 1248.64 L474.82 1248.29 L477.57 1247.94 L480.33 1247.59 L483.08 1247.24 L485.84 1246.9 L488.6 1246.55 L491.35 1246.21 L494.11 1245.86 L496.87 1245.52 L499.62 1245.18 L502.38 1244.84 L505.14 1244.5 L507.89 1244.16 L510.65 1243.82 L513.41 1243.48 L516.17 1243.15 L518.92 1242.81 L521.68 1242.48 L524.44 1242.15 L527.2 1241.81 L529.95 1241.48 L532.71 1241.15 L535.47 1240.82 L538.23 1240.49 L540.99 1240.16 L543.75 1239.84 L546.5 1239.51 L549.26 1239.18 L552.02 1238.86 L554.78 1238.54 L557.54 1238.21 L560.3 1237.89 L563.06 1237.57 L565.82 1237.25 L568.58 1236.93 L571.34 1236.61 L574.1 1236.29 L576.86 1235.98 L579.62 1235.66 L582.38 1235.34 L585.14 1235.03 L587.9 1234.71 L590.66 1234.4 L593.42 1234.09 L596.18 1233.78 L598.94 1233.47 L601.7 1233.16 L604.46 1232.85 L607.22 1232.54 L609.98 1232.23 L612.74 1231.92 L615.5 1231.62 L618.27 1231.31 L621.03 1231.01 L623.79 1230.7 L626.55 1230.4 L629.31 1230.09 L632.07 1229.79 L634.84 1229.49 L637.6 1229.19 L640.36 1228.89 L643.12 1228.59 L645.88 1228.29 L648.65 1227.99 L651.41 1227.7 L654.17 1227.4 L656.93 1227.1 L659.7 1226.81 L662.46 1226.51 L665.22 1226.22 L667.98 1225.92 L670.75 1225.63 L673.51 1225.34 L676.27 1225.05 L679.03 1224.76 L681.8 1224.46 L684.56 1224.17 L687.32 1223.88 L690.09 1223.6 L692.85 1223.31 L695.61 1223.02 L698.38 1222.73 L701.14 1222.45 L703.9 1222.16 L706.67 1221.87 L709.43 1221.59 L712.19 1221.31 L714.96 1221.02 L717.72 1220.74 L720.49 1220.45 L723.25 1220.17 L726.01 1219.89 L728.78 1219.61 L731.54 1219.33 L734.31 1219.05 L737.07 1218.77 L739.83 1218.49 L742.6 1218.21 L745.36 1217.93 L748.13 1217.65 L750.89 1217.38 L753.66 1217.1 L756.42 1216.82 L759.19 1216.55 L761.95 1216.27 L764.71 1216 L767.48 1215.72 L770.24 1215.45 L773.01 1215.17 L775.77 1214.9 L778.54 1214.63 L781.3 1214.35 L784.07 1214.08 L786.83 1213.81 L789.6 1213.54 L792.36 1213.27 L795.13 1212.99 L797.89 1212.72 L800.66 1212.45 L803.42 1212.18 L806.19 1211.91 L808.95 1211.65 L811.72 1211.38 L814.48 1211.11 L817.25 1210.84 L820.01 1210.57 L822.78 1210.31 L825.54 1210.04 L828.31 1209.77 L831.08 1209.51 L833.84 1209.24 L836.61 1208.97 L839.37 1208.71 L842.14 1208.44 L844.9 1208.18 L847.67 1207.91 L850.43 1207.65 L853.2 1207.38 L855.96 1207.12 L858.73 1206.86 L861.49 1206.59 L864.26 1206.33 L867.03 1206.07 L869.79 1205.8 L872.56 1205.54 L875.32 1205.28 L878.09 1205.02 L880.85 1204.75 L883.62 1204.49 L886.38 1204.23 L889.15 1203.97 L891.91 1203.71 L894.68 1203.45 L897.45 1203.19 L900.21 1202.93 L902.98 1202.67 L905.74 1202.41 L908.51 1202.15 L911.27 1201.89 L914.04 1201.63 L916.8 1201.37 L919.57 1201.11 L922.33 1200.85 L925.1 1200.59 L927.86 1200.33 L930.63 1200.07 L933.4 1199.81 L936.16 1199.55 L938.93 1199.29 L941.69 1199.03 L944.46 1198.77 L947.22 1198.52 L949.99 1198.26 L952.75 1198 L955.52 1197.74 L958.28 1197.48 L961.05 1197.22 L963.81 1196.97" fill="none" stroke="#66ccff" stroke-width="6.6" clip-path="url(#cc)" stroke-linejoin="round"/>
<path d="M230.9 807 L230.9 1353.6" fill="none" stroke="#cc0099" stroke-width="4.6" stroke-dasharray="4.6 4.8"/>
<path d="M797.3 807 L797.3 1353.6" fill="none" stroke="#ff0000" stroke-width="4.6" stroke-dasharray="4.6 4.8"/>
<rect x="353.4" y="818.4" width="400.7" height="126.6" fill="#fff" stroke="#4e4e4e" stroke-width="1.3"/>
<line x1="359.6" y1="851.4" x2="422.8" y2="851.4" stroke="#000066" stroke-width="6.6" />
<line x1="557.8" y1="851.4" x2="620.2" y2="851.4" stroke="#0099ff" stroke-width="6.6" />
<line x1="359.6" y1="912.5" x2="422.8" y2="912.5" stroke="#0033ff" stroke-width="6.6" />
<line x1="557.8" y1="912.5" x2="620.2" y2="912.5" stroke="#66ccff" stroke-width="6.6" />
<text x="428.6" y="855.6" font-size="37.5" fill="#000" font-family="'Liberation Serif','Times New Roman',serif">|H<tspan font-size="30" dy="19">-1</tspan><tspan dy="-19">/H</tspan><tspan font-size="30" dy="19">0</tspan><tspan dy="-19">|</tspan></text>
<text x="625.6" y="855.6" font-size="37.5" fill="#000" font-family="'Liberation Serif','Times New Roman',serif">|H<tspan font-size="30" dy="19">-2</tspan><tspan dy="-19">/H</tspan><tspan font-size="30" dy="19">0</tspan><tspan dy="-19">|</tspan></text>
<text x="428.6" y="916.7" font-size="37.5" fill="#000" font-family="'Liberation Serif','Times New Roman',serif">|H<tspan font-size="30" dy="19">1</tspan><tspan dy="-19">/H</tspan><tspan font-size="30" dy="19">0</tspan><tspan dy="-19">|</tspan></text>
<text x="625.6" y="916.7" font-size="37.5" fill="#000" font-family="'Liberation Serif','Times New Roman',serif">|H<tspan font-size="30" dy="19">2</tspan><tspan dy="-19">/H</tspan><tspan font-size="30" dy="19">0</tspan><tspan dy="-19">|</tspan></text>
<line x1="827.4" y1="924.4" x2="809.7" y2="938.75" stroke="#0000cc" stroke-width="3.6" />
<path d="M803.1 944.1 L808.91 931.41 L810.09 938.43 L816.71 941.04 Z" fill="#0000cc"/>
<line x1="827.4" y1="1000.8" x2="812.5" y2="988.27" stroke="#000066" stroke-width="3.6" />
<path d="M806 982.8 L819.56 986.1 L812.89 988.59 L811.58 995.59 Z" fill="#000066"/>
<line x1="827" y1="1163.7" x2="809.8" y2="1177.65" stroke="#0099ff" stroke-width="3.6" />
<path d="M803.2 1183 L809 1170.31 L810.19 1177.33 L816.81 1179.94 Z" fill="#0099ff"/>
<line x1="827.6" y1="1246.8" x2="810.28" y2="1232.1" stroke="#66ccff" stroke-width="3.6" />
<path d="M803.8 1226.6 L817.34 1229.96 L810.66 1232.42 L809.32 1239.42 Z" fill="#66ccff"/>
<line x1="270.6" y1="1320" x2="245.35" y2="1341.66" stroke="#cc0099" stroke-width="3.6" />
<path d="M238.9 1347.2 L244.35 1334.35 L245.73 1341.34 L252.42 1343.77 Z" fill="#cc0099"/>
<line x1="755.9" y1="1319.8" x2="782.13" y2="1342.18" stroke="#ff0000" stroke-width="3.6" />
<path d="M788.6 1347.7 L775.07 1344.3 L781.75 1341.86 L783.12 1334.87 Z" fill="#ff0000"/>
<circle cx="797.4" cy="954.9" r="6.6" fill="#0000cc" stroke="#000" stroke-width="2.9"/>
<circle cx="797.4" cy="973.8" r="6.6" fill="#000066" stroke="#000" stroke-width="2.9"/>
<circle cx="797.4" cy="1190.6" r="6.6" fill="#0099ff" stroke="#000" stroke-width="2.9"/>
<circle cx="797.4" cy="1214.4" r="6.6" fill="#66ccff" stroke="#000" stroke-width="2.9"/>
<rect x="825.1" y="887.4" width="117.5" height="39.3" rx="6.5" fill="#0000cc"/>
<text x="883.8" y="919.8" font-size="33" text-anchor="middle" fill="#fff" font-family="'Liberation Serif','Times New Roman',serif" font-weight="bold" >0.08</text>
<rect x="825.1" y="999.6" width="117.5" height="38.2" rx="6.5" fill="#000066"/>
<text x="883.8" y="1030.8" font-size="33" text-anchor="middle" fill="#fff" font-family="'Liberation Serif','Times New Roman',serif" font-weight="bold" >0.07</text>
<rect x="825.1" y="1125.9" width="117.5" height="40.3" rx="6.5" fill="#0099ff"/>
<text x="883.8" y="1158.2" font-size="33" text-anchor="middle" fill="#fff" font-family="'Liberation Serif','Times New Roman',serif" font-weight="bold" >0.005</text>
<rect x="825.1" y="1245.5" width="117.5" height="40.3" rx="6.5" fill="#66ccff"/>
<text x="883.8" y="1277.9" font-size="33" text-anchor="middle" fill="#fff" font-family="'Liberation Serif','Times New Roman',serif" font-weight="bold" >0.004</text>
<text x="278" y="1305.1" font-size="32.5" text-anchor="start" fill="#cc0099" font-family="'Liberation Serif','Times New Roman',serif" font-weight="normal" >Broadside</text>
<text x="523" y="1305.4" font-size="32.5" text-anchor="start" fill="#ff0000" font-family="'Liberation Serif','Times New Roman',serif" font-weight="normal" textLength="243" lengthAdjust="spacingAndGlyphs">Design Frequency</text>
<line x1="139.9" y1="1353.6" x2="139.9" y2="1344.1" stroke="#4e4e4e" stroke-width="1.3" />
<line x1="139.9" y1="809" x2="139.9" y2="818.5" stroke="#4e4e4e" stroke-width="1.3" />
<line x1="304.68" y1="1353.6" x2="304.68" y2="1344.1" stroke="#4e4e4e" stroke-width="1.3" />
<line x1="304.68" y1="809" x2="304.68" y2="818.5" stroke="#4e4e4e" stroke-width="1.3" />
<line x1="469.46" y1="1353.6" x2="469.46" y2="1344.1" stroke="#4e4e4e" stroke-width="1.3" />
<line x1="469.46" y1="809" x2="469.46" y2="818.5" stroke="#4e4e4e" stroke-width="1.3" />
<line x1="634.24" y1="1353.6" x2="634.24" y2="1344.1" stroke="#4e4e4e" stroke-width="1.3" />
<line x1="634.24" y1="809" x2="634.24" y2="818.5" stroke="#4e4e4e" stroke-width="1.3" />
<line x1="799.02" y1="1353.6" x2="799.02" y2="1344.1" stroke="#4e4e4e" stroke-width="1.3" />
<line x1="799.02" y1="809" x2="799.02" y2="818.5" stroke="#4e4e4e" stroke-width="1.3" />
<line x1="963.8" y1="1353.6" x2="963.8" y2="1344.1" stroke="#4e4e4e" stroke-width="1.3" />
<line x1="963.8" y1="809" x2="963.8" y2="818.5" stroke="#4e4e4e" stroke-width="1.3" />
<line x1="139.9" y1="941.2" x2="149.4" y2="941.2" stroke="#4e4e4e" stroke-width="1.3" />
<line x1="963.8" y1="941.2" x2="954.3" y2="941.2" stroke="#4e4e4e" stroke-width="1.3" />
<line x1="139.9" y1="1130.3" x2="149.4" y2="1130.3" stroke="#4e4e4e" stroke-width="1.3" />
<line x1="963.8" y1="1130.3" x2="954.3" y2="1130.3" stroke="#4e4e4e" stroke-width="1.3" />
<line x1="139.9" y1="1319.4" x2="149.4" y2="1319.4" stroke="#4e4e4e" stroke-width="1.3" />
<line x1="963.8" y1="1319.4" x2="954.3" y2="1319.4" stroke="#4e4e4e" stroke-width="1.3" />
<line x1="139.9" y1="1348.69" x2="144.9" y2="1348.69" stroke="#4e4e4e" stroke-width="1.3" />
<line x1="963.8" y1="1348.69" x2="958.8" y2="1348.69" stroke="#4e4e4e" stroke-width="1.3" />
<line x1="139.9" y1="1337.73" x2="144.9" y2="1337.73" stroke="#4e4e4e" stroke-width="1.3" />
<line x1="963.8" y1="1337.73" x2="958.8" y2="1337.73" stroke="#4e4e4e" stroke-width="1.3" />
<line x1="139.9" y1="1328.05" x2="144.9" y2="1328.05" stroke="#4e4e4e" stroke-width="1.3" />
<line x1="963.8" y1="1328.05" x2="958.8" y2="1328.05" stroke="#4e4e4e" stroke-width="1.3" />
<line x1="139.9" y1="1262.48" x2="144.9" y2="1262.48" stroke="#4e4e4e" stroke-width="1.3" />
<line x1="963.8" y1="1262.48" x2="958.8" y2="1262.48" stroke="#4e4e4e" stroke-width="1.3" />
<line x1="139.9" y1="1229.18" x2="144.9" y2="1229.18" stroke="#4e4e4e" stroke-width="1.3" />
<line x1="963.8" y1="1229.18" x2="958.8" y2="1229.18" stroke="#4e4e4e" stroke-width="1.3" />
<line x1="139.9" y1="1205.55" x2="144.9" y2="1205.55" stroke="#4e4e4e" stroke-width="1.3" />
<line x1="963.8" y1="1205.55" x2="958.8" y2="1205.55" stroke="#4e4e4e" stroke-width="1.3" />
<line x1="139.9" y1="1187.22" x2="144.9" y2="1187.22" stroke="#4e4e4e" stroke-width="1.3" />
<line x1="963.8" y1="1187.22" x2="958.8" y2="1187.22" stroke="#4e4e4e" stroke-width="1.3" />
<line x1="139.9" y1="1172.25" x2="144.9" y2="1172.25" stroke="#4e4e4e" stroke-width="1.3" />
<line x1="963.8" y1="1172.25" x2="958.8" y2="1172.25" stroke="#4e4e4e" stroke-width="1.3" />
<line x1="139.9" y1="1159.59" x2="144.9" y2="1159.59" stroke="#4e4e4e" stroke-width="1.3" />
<line x1="963.8" y1="1159.59" x2="958.8" y2="1159.59" stroke="#4e4e4e" stroke-width="1.3" />
<line x1="139.9" y1="1148.63" x2="144.9" y2="1148.63" stroke="#4e4e4e" stroke-width="1.3" />
<line x1="963.8" y1="1148.63" x2="958.8" y2="1148.63" stroke="#4e4e4e" stroke-width="1.3" />
<line x1="139.9" y1="1138.95" x2="144.9" y2="1138.95" stroke="#4e4e4e" stroke-width="1.3" />
<line x1="963.8" y1="1138.95" x2="958.8" y2="1138.95" stroke="#4e4e4e" stroke-width="1.3" />
<line x1="139.9" y1="1073.38" x2="144.9" y2="1073.38" stroke="#4e4e4e" stroke-width="1.3" />
<line x1="963.8" y1="1073.38" x2="958.8" y2="1073.38" stroke="#4e4e4e" stroke-width="1.3" />
<line x1="139.9" y1="1040.08" x2="144.9" y2="1040.08" stroke="#4e4e4e" stroke-width="1.3" />
<line x1="963.8" y1="1040.08" x2="958.8" y2="1040.08" stroke="#4e4e4e" stroke-width="1.3" />
<line x1="139.9" y1="1016.45" x2="144.9" y2="1016.45" stroke="#4e4e4e" stroke-width="1.3" />
<line x1="963.8" y1="1016.45" x2="958.8" y2="1016.45" stroke="#4e4e4e" stroke-width="1.3" />
<line x1="139.9" y1="998.12" x2="144.9" y2="998.12" stroke="#4e4e4e" stroke-width="1.3" />
<line x1="963.8" y1="998.12" x2="958.8" y2="998.12" stroke="#4e4e4e" stroke-width="1.3" />
<line x1="139.9" y1="983.15" x2="144.9" y2="983.15" stroke="#4e4e4e" stroke-width="1.3" />
<line x1="963.8" y1="983.15" x2="958.8" y2="983.15" stroke="#4e4e4e" stroke-width="1.3" />
<line x1="139.9" y1="970.49" x2="144.9" y2="970.49" stroke="#4e4e4e" stroke-width="1.3" />
<line x1="963.8" y1="970.49" x2="958.8" y2="970.49" stroke="#4e4e4e" stroke-width="1.3" />
<line x1="139.9" y1="959.53" x2="144.9" y2="959.53" stroke="#4e4e4e" stroke-width="1.3" />
<line x1="963.8" y1="959.53" x2="958.8" y2="959.53" stroke="#4e4e4e" stroke-width="1.3" />
<line x1="139.9" y1="949.85" x2="144.9" y2="949.85" stroke="#4e4e4e" stroke-width="1.3" />
<line x1="963.8" y1="949.85" x2="958.8" y2="949.85" stroke="#4e4e4e" stroke-width="1.3" />
<line x1="139.9" y1="884.28" x2="144.9" y2="884.28" stroke="#4e4e4e" stroke-width="1.3" />
<line x1="963.8" y1="884.28" x2="958.8" y2="884.28" stroke="#4e4e4e" stroke-width="1.3" />
<line x1="139.9" y1="850.98" x2="144.9" y2="850.98" stroke="#4e4e4e" stroke-width="1.3" />
<line x1="963.8" y1="850.98" x2="958.8" y2="850.98" stroke="#4e4e4e" stroke-width="1.3" />
<line x1="139.9" y1="827.35" x2="144.9" y2="827.35" stroke="#4e4e4e" stroke-width="1.3" />
<line x1="963.8" y1="827.35" x2="958.8" y2="827.35" stroke="#4e4e4e" stroke-width="1.3" />
<rect x="139.9" y="809" width="823.9" height="544.6" fill="none" stroke="#4e4e4e" stroke-width="1.3"/>
<text x="139.9" y="1404.8" font-size="41" text-anchor="middle" fill="#1c1c1c" font-family="'Liberation Serif','Times New Roman',serif" font-weight="normal" >10</text>
<text x="304.68" y="1404.8" font-size="41" text-anchor="middle" fill="#1c1c1c" font-family="'Liberation Serif','Times New Roman',serif" font-weight="normal" >12</text>
<text x="469.46" y="1404.8" font-size="41" text-anchor="middle" fill="#1c1c1c" font-family="'Liberation Serif','Times New Roman',serif" font-weight="normal" >14</text>
<text x="634.24" y="1404.8" font-size="41" text-anchor="middle" fill="#1c1c1c" font-family="'Liberation Serif','Times New Roman',serif" font-weight="normal" >16</text>
<text x="799.02" y="1404.8" font-size="41" text-anchor="middle" fill="#1c1c1c" font-family="'Liberation Serif','Times New Roman',serif" font-weight="normal" >18</text>
<text x="963.8" y="1404.8" font-size="41" text-anchor="middle" fill="#1c1c1c" font-family="'Liberation Serif','Times New Roman',serif" font-weight="normal" >20</text>
<text x="125" y="962.6" font-size="41" text-anchor="end" fill="#1c1c1c" font-family="'Liberation Serif','Times New Roman',serif">10<tspan font-size="33" dy="-20.3">-1</tspan></text>
<text x="125" y="1151.7" font-size="41" text-anchor="end" fill="#1c1c1c" font-family="'Liberation Serif','Times New Roman',serif">10<tspan font-size="33" dy="-20.3">-2</tspan></text>
<text x="125" y="1340.8" font-size="41" text-anchor="end" fill="#1c1c1c" font-family="'Liberation Serif','Times New Roman',serif">10<tspan font-size="33" dy="-20.3">-3</tspan></text>
<text x="41.6" y="1081.4" font-size="46" text-anchor="middle" fill="#1c1c1c" font-family="'Liberation Serif','Times New Roman',serif" font-weight="normal" transform="rotate(-90 41.6 1081.4)">Magnitude</text>
<text x="551.2" y="1459.2" font-size="46" text-anchor="middle" fill="#1c1c1c" font-family="'Liberation Serif','Times New Roman',serif" font-weight="normal" >Frequency (GHz)</text>
<line x1="3.5" y1="1472.6" x2="993.5" y2="1472.6" stroke="#5a5a5a" stroke-width="1.2" />
<text x="497.4" y="1532.7" font-size="38.5" text-anchor="middle" fill="#000" font-family="'Liberation Sans',Arial,sans-serif" font-weight="bold" >(c)</text>
<line x1="1268.95" y1="809.3" x2="1268.95" y2="1362.5" stroke="#dedede" stroke-width="1.3" />
<line x1="1408.3" y1="809.3" x2="1408.3" y2="1362.5" stroke="#dedede" stroke-width="1.3" />
<line x1="1547.65" y1="809.3" x2="1547.65" y2="1362.5" stroke="#dedede" stroke-width="1.3" />
<line x1="1687" y1="809.3" x2="1687" y2="1362.5" stroke="#dedede" stroke-width="1.3" />
<line x1="1826.35" y1="809.3" x2="1826.35" y2="1362.5" stroke="#dedede" stroke-width="1.3" />
<line x1="1129.6" y1="1251.86" x2="1965.7" y2="1251.86" stroke="#dedede" stroke-width="1.3" />
<line x1="1129.6" y1="1141.22" x2="1965.7" y2="1141.22" stroke="#dedede" stroke-width="1.3" />
<line x1="1129.6" y1="1030.58" x2="1965.7" y2="1030.58" stroke="#dedede" stroke-width="1.3" />
<line x1="1129.6" y1="919.94" x2="1965.7" y2="919.94" stroke="#dedede" stroke-width="1.3" />
<clipPath id="cd"><rect x="1129.6" y="809.3" width="836.1" height="553.2"/></clipPath>
<path d="M1129.9 1363.5 L1129.9 1350.38 L1130.93 1350.34 L1131.96 1350.31 L1132.99 1350.27 L1134.02 1350.23 L1135.04 1350.19 L1136.07 1350.16 L1137.1 1350.12 L1138.13 1350.08 L1139.16 1350.04 L1140.19 1350 L1141.22 1349.97 L1142.25 1349.93 L1143.28 1349.89 L1144.31 1349.85 L1145.34 1349.81 L1146.37 1349.77 L1147.4 1349.73 L1148.43 1349.69 L1149.46 1349.65 L1150.49 1349.61 L1151.52 1349.57 L1152.54 1349.53 L1153.57 1349.48 L1154.6 1349.44 L1155.63 1349.4 L1156.66 1349.36 L1157.69 1349.32 L1158.72 1349.27 L1159.75 1349.23 L1160.78 1349.19 L1161.8 1349.14 L1162.83 1349.1 L1163.86 1349.06 L1164.89 1349.01 L1165.92 1348.97 L1166.95 1348.93 L1167.98 1348.88 L1169.01 1348.84 L1170.03 1348.79 L1171.06 1348.75 L1172.09 1348.7 L1173.12 1348.66 L1174.15 1348.61 L1175.18 1348.56 L1176.21 1348.52 L1177.23 1348.47 L1178.26 1348.42 L1179.29 1348.38 L1180.32 1348.33 L1181.35 1348.28 L1182.38 1348.23 L1183.41 1348.19 L1184.43 1348.14 L1185.46 1348.09 L1186.49 1348.04 L1187.52 1347.99 L1188.55 1347.94 L1189.58 1347.89 L1190.6 1347.84 L1191.63 1347.79 L1192.66 1347.74 L1193.69 1347.69 L1194.72 1347.64 L1195.75 1347.59 L1196.77 1347.54 L1197.8 1347.49 L1198.83 1347.44 L1199.86 1347.38 L1200.89 1347.33 L1201.91 1347.28 L1202.94 1347.23 L1203.97 1347.17 L1205 1347.12 L1206.03 1347.07 L1207.06 1347.01 L1208.08 1346.96 L1209.11 1346.9 L1210.14 1346.85 L1211.17 1346.8 L1212.2 1346.74 L1213.22 1346.69 L1214.25 1346.63 L1215.28 1346.57 L1216.31 1346.52 L1217.34 1346.46 L1218.37 1346.4 L1219.39 1346.35 L1220.42 1346.29 L1221.45 1346.23 L1222.48 1346.18 L1223.51 1346.12 L1224.53 1346.06 L1225.56 1346 L1226.59 1345.94 L1227.62 1345.88 L1228.65 1345.82 L1229.68 1345.76 L1230.7 1345.7 L1231.73 1345.64 L1232.76 1345.58 L1233.79 1345.52 L1234.82 1345.46 L1235.84 1345.4 L1236.87 1345.34 L1237.9 1345.28 L1238.93 1345.22 L1239.96 1345.15 L1240.99 1345.09 L1242.01 1345.03 L1243.04 1344.96 L1244.07 1344.9 L1245.1 1344.84 L1246.13 1344.77 L1247.16 1344.71 L1248.18 1344.64 L1249.21 1344.58 L1250.24 1344.51 L1251.27 1344.45 L1252.3 1344.38 L1253.33 1344.32 L1254.36 1344.25 L1255.38 1344.18 L1256.41 1344.11 L1257.44 1344.05 L1258.47 1343.98 L1259.5 1343.91 L1260.52 1343.83 L1261.55 1343.76 L1262.58 1343.69 L1263.61 1343.61 L1264.64 1343.54 L1265.66 1343.46 L1266.69 1343.38 L1267.72 1343.3 L1268.74 1343.22 L1269.77 1343.14 L1270.8 1343.05 L1271.82 1342.97 L1272.85 1342.88 L1273.88 1342.79 L1274.9 1342.7 L1275.93 1342.6 L1276.95 1342.51 L1277.98 1342.41 L1279 1342.31 L1280.03 1342.21 L1281.05 1342.1 L1282.07 1342 L1283.1 1341.89 L1284.12 1341.77 L1285.14 1341.66 L1286.16 1341.54 L1287.19 1341.42 L1288.21 1341.3 L1289.23 1341.17 L1290.25 1341.04 L1291.27 1340.91 L1292.29 1340.78 L1293.31 1340.64 L1294.33 1340.5 L1295.34 1340.35 L1296.36 1340.21 L1297.38 1340.05 L1298.4 1339.9 L1299.41 1339.74 L1300.43 1339.58 L1301.44 1339.41 L1302.46 1339.24 L1303.47 1339.07 L1304.49 1338.89 L1305.5 1338.71 L1306.51 1338.52 L1307.52 1338.33 L1308.53 1338.14 L1309.54 1337.94 L1310.55 1337.74 L1311.56 1337.53 L1312.57 1337.32 L1313.58 1337.1 L1314.59 1336.88 L1315.59 1336.66 L1316.6 1336.43 L1317.6 1336.19 L1318.61 1335.95 L1319.61 1335.71 L1320.61 1335.46 L1321.61 1335.2 L1322.62 1334.94 L1323.62 1334.68 L1324.61 1334.41 L1325.61 1334.13 L1326.61 1333.85 L1327.6 1333.56 L1328.59 1333.26 L1329.58 1332.96 L1330.57 1332.65 L1331.56 1332.33 L1332.54 1332.01 L1333.52 1331.68 L1334.49 1331.34 L1335.47 1330.99 L1336.43 1330.63 L1337.4 1330.27 L1338.36 1329.89 L1339.31 1329.51 L1340.27 1329.12 L1341.21 1328.72 L1342.15 1328.31 L1343.09 1327.89 L1344.02 1327.45 L1344.95 1327.01 L1345.87 1326.56 L1346.78 1326.1 L1347.69 1325.62 L1348.59 1325.14 L1349.48 1324.64 L1350.37 1324.13 L1351.24 1323.61 L1352.12 1323.08 L1352.98 1322.54 L1353.84 1321.98 L1354.69 1321.41 L1355.54 1320.84 L1356.38 1320.25 L1357.21 1319.66 L1358.04 1319.05 L1358.86 1318.44 L1359.68 1317.82 L1360.49 1317.19 L1361.3 1316.55 L1362.1 1315.91 L1362.89 1315.25 L1363.69 1314.6 L1364.48 1313.93 L1365.26 1313.26 L1366.04 1312.59 L1366.82 1311.91 L1367.59 1311.22 L1368.36 1310.53 L1369.13 1309.84 L1369.89 1309.15 L1370.66 1308.45 L1371.41 1307.74 L1372.17 1307.04 L1372.93 1306.33 L1373.68 1305.62 L1374.43 1304.91 L1375.18 1304.2 L1375.92 1303.48 L1376.66 1302.76 L1377.4 1302.04 L1378.14 1301.32 L1378.88 1300.59 L1379.61 1299.86 L1380.34 1299.13 L1381.07 1298.4 L1381.8 1297.66 L1382.52 1296.92 L1383.24 1296.19 L1383.97 1295.44 L1384.68 1294.7 L1385.4 1293.95 L1386.11 1293.21 L1386.82 1292.46 L1387.53 1291.71 L1388.24 1290.95 L1388.95 1290.2 L1389.65 1289.44 L1390.35 1288.68 L1391.05 1287.92 L1391.75 1287.16 L1392.44 1286.4 L1393.14 1285.63 L1393.83 1284.87 L1394.52 1284.1 L1395.2 1283.33 L1395.89 1282.56 L1396.57 1281.78 L1397.25 1281.01 L1397.93 1280.23 L1398.61 1279.46 L1399.29 1278.68 L1399.96 1277.9 L1400.63 1277.12 L1401.31 1276.33 L1401.97 1275.55 L1402.64 1274.77 L1403.31 1273.98 L1403.97 1273.19 L1404.63 1272.41 L1405.29 1271.62 L1405.95 1270.83 L1406.61 1270.03 L1407.26 1269.24 L1407.91 1268.45 L1408.57 1267.66 L1409.22 1266.86 L1409.86 1266.07 L1410.51 1265.27 L1411.16 1264.47 L1411.8 1263.67 L1412.44 1262.87 L1413.08 1262.08 L1413.72 1261.28 L1414.36 1260.47 L1415 1259.67 L1415.63 1258.87 L1416.26 1258.07 L1416.9 1257.26 L1417.53 1256.46 L1418.16 1255.65 L1418.79 1254.85 L1419.41 1254.04 L1420.04 1253.23 L1420.66 1252.43 L1421.29 1251.62 L1421.91 1250.81 L1422.53 1249.99 L1423.15 1249.18 L1423.77 1248.37 L1424.39 1247.56 L1425.01 1246.74 L1425.63 1245.92 L1426.25 1245.11 L1426.86 1244.29 L1427.48 1243.47 L1428.09 1242.65 L1428.71 1241.83 L1429.32 1241.01 L1429.93 1240.19 L1430.55 1239.36 L1431.16 1238.54 L1431.77 1237.71 L1432.38 1236.88 L1432.99 1236.06 L1433.61 1235.23 L1434.22 1234.4 L1434.83 1233.56 L1435.44 1232.73 L1436.05 1231.9 L1436.66 1231.06 L1437.27 1230.23 L1437.88 1229.39 L1438.49 1228.55 L1439.09 1227.71 L1439.7 1226.87 L1440.31 1226.02 L1440.92 1225.18 L1441.53 1224.33 L1442.15 1223.49 L1442.76 1222.64 L1443.37 1221.79 L1443.98 1220.94 L1444.59 1220.09 L1445.2 1219.23 L1445.8 1218.38 L1446.41 1217.52 L1447.01 1216.66 L1447.61 1215.79 L1448.2 1214.93 L1448.79 1214.06 L1449.38 1213.19 L1449.96 1212.31 L1450.53 1211.43 L1451.09 1210.55 L1451.65 1209.66 L1452.2 1208.77 L1452.74 1207.87 L1453.27 1206.97 L1453.79 1206.07 L1454.29 1205.15 L1454.79 1204.24 L1455.28 1203.32 L1455.75 1202.39 L1456.21 1201.46 L1456.65 1200.52 L1457.08 1199.57 L1457.5 1198.62 L1457.9 1197.66 L1458.28 1196.7 L1458.65 1195.73 L1459 1194.75 L1459.33 1193.76 L1459.64 1192.77 L1459.93 1191.77 L1460.19 1190.77 L1460.41 1189.78 L1460.57 1188.8 L1460.68 1187.85 L1460.72 1186.93 L1460.68 1186.04 L1460.54 1185.19 L1460.31 1184.4 L1459.97 1183.66 L1459.52 1182.98 L1458.93 1182.38 L1458.23 1181.85 L1457.42 1181.37 L1456.54 1180.96 L1455.59 1180.59 L1454.6 1180.26 L1453.58 1179.96 L1452.56 1179.68 L1451.54 1179.43 L1450.52 1179.21 L1449.5 1179 L1448.47 1178.81 L1447.44 1178.65 L1446.41 1178.5 L1445.38 1178.37 L1444.35 1178.25 L1443.32 1178.15 L1442.28 1178.06 L1441.25 1177.99 L1440.21 1177.92 L1439.17 1177.87 L1438.13 1177.83 L1437.09 1177.79 L1436.05 1177.77 L1435.01 1177.74 L1433.97 1177.73 L1432.93 1177.72 L1431.89 1177.71 L1430.85 1177.7 L1429.81 1177.69 L1428.77 1177.68 L1427.73 1177.68 L1426.69 1177.67 L1425.65 1177.66 L1424.61 1177.65 L1423.57 1177.64 L1422.53 1177.63 L1421.49 1177.62 L1420.45 1177.61 L1419.41 1177.6 L1418.38 1177.58 L1417.34 1177.57 L1416.3 1177.56 L1415.26 1177.54 L1414.23 1177.53 L1413.19 1177.51 L1412.16 1177.5 L1411.12 1177.48 L1410.08 1177.46 L1409.05 1177.45 L1408.01 1177.43 L1406.98 1177.41 L1405.94 1177.39 L1404.91 1177.37 L1403.87 1177.36 L1402.84 1177.34 L1401.81 1177.32 L1400.77 1177.3 L1399.74 1177.27 L1398.71 1177.25 L1397.67 1177.23 L1396.64 1177.21 L1395.61 1177.19 L1394.57 1177.16 L1393.54 1177.14 L1392.51 1177.12 L1391.48 1177.09 L1390.45 1177.07 L1389.42 1177.05 L1388.38 1177.02 L1387.35 1177 L1386.32 1176.97 L1385.29 1176.94 L1384.26 1176.92 L1383.23 1176.89 L1382.2 1176.87 L1381.17 1176.84 L1380.14 1176.81 L1379.11 1176.79 L1378.08 1176.76 L1377.05 1176.73 L1376.02 1176.7 L1374.99 1176.68 L1373.96 1176.65 L1372.93 1176.62 L1371.9 1176.59 L1370.88 1176.56 L1369.85 1176.53 L1368.82 1176.5 L1367.79 1176.47 L1366.76 1176.45 L1365.73 1176.42 L1364.7 1176.39 L1363.68 1176.36 L1362.65 1176.33 L1361.62 1176.3 L1360.59 1176.27 L1359.56 1176.24 L1358.54 1176.21 L1357.51 1176.18 L1356.48 1176.15 L1355.45 1176.12 L1354.43 1176.09 L1353.4 1176.06 L1352.37 1176.03 L1351.35 1176 L1350.32 1175.97 L1349.29 1175.94 L1348.26 1175.91 L1347.24 1175.87 L1346.21 1175.84 L1345.18 1175.81 L1344.16 1175.78 L1343.13 1175.75 L1342.1 1175.72 L1341.08 1175.69 L1340.05 1175.66 L1339.02 1175.63 L1338 1175.6 L1336.97 1175.57 L1335.94 1175.55 L1334.92 1175.52 L1333.89 1175.49 L1332.86 1175.46 L1331.84 1175.43 L1330.81 1175.4 L1329.78 1175.37 L1328.76 1175.34 L1327.73 1175.31 L1326.7 1175.29 L1325.67 1175.26 L1324.65 1175.23 L1323.62 1175.2 L1322.59 1175.17 L1321.57 1175.15 L1320.54 1175.12 L1319.51 1175.09 L1318.49 1175.07 L1317.46 1175.04 L1316.43 1175.02 L1315.4 1174.99 L1314.38 1174.96 L1313.35 1174.94 L1312.32 1174.91 L1311.3 1174.89 L1310.27 1174.87 L1309.24 1174.84 L1308.21 1174.82 L1307.18 1174.79 L1306.16 1174.77 L1305.13 1174.75 L1304.1 1174.73 L1303.07 1174.71 L1302.04 1174.68 L1301.02 1174.66 L1299.99 1174.64 L1298.96 1174.62 L1297.93 1174.6 L1296.9 1174.58 L1295.87 1174.56 L1294.84 1174.54 L1293.82 1174.53 L1292.79 1174.51 L1291.76 1174.49 L1290.73 1174.47 L1289.7 1174.46 L1288.67 1174.44 L1287.64 1174.43 L1286.61 1174.41 L1285.58 1174.4 L1284.55 1174.38 L1283.52 1174.37 L1282.49 1174.36 L1281.46 1174.35 L1280.42 1174.33 L1279.39 1174.32 L1278.36 1174.31 L1277.33 1174.3 L1276.3 1174.29 L1275.27 1174.28 L1274.23 1174.27 L1273.2 1174.27 L1272.17 1174.26 L1271.14 1174.25 L1270.1 1174.25 L1269.07 1174.24 L1268.04 1174.24 L1267 1174.23 L1265.97 1174.23 L1264.94 1174.23 L1263.9 1174.23 L1262.87 1174.22 L1261.83 1174.22 L1260.8 1174.22 L1259.76 1174.23 L1258.73 1174.23 L1257.69 1174.23 L1256.66 1174.23 L1255.62 1174.24 L1254.59 1174.24 L1253.55 1174.25 L1252.51 1174.25 L1251.48 1174.26 L1250.44 1174.27 L1250.5 1173.3 L1420 1172.6 L1592.5 1171.3 L1592.49 1171.18 L1591.59 1171.04 L1590.69 1170.91 L1589.8 1170.8 L1588.9 1170.69 L1588.01 1170.58 L1587.12 1170.49 L1586.22 1170.4 L1585.33 1170.32 L1584.44 1170.25 L1583.56 1170.18 L1582.67 1170.12 L1581.78 1170.07 L1580.89 1170.02 L1580.01 1169.98 L1579.12 1169.94 L1578.24 1169.9 L1577.35 1169.87 L1576.47 1169.84 L1575.59 1169.81 L1574.7 1169.79 L1573.82 1169.77 L1572.94 1169.75 L1572.05 1169.73 L1571.17 1169.72 L1570.29 1169.71 L1569.4 1169.69 L1568.52 1169.68 L1567.63 1169.66 L1566.75 1169.65 L1565.87 1169.64 L1564.98 1169.62 L1564.09 1169.6 L1563.21 1169.58 L1562.32 1169.56 L1561.43 1169.54 L1560.55 1169.51 L1559.66 1169.48 L1558.77 1169.44 L1557.88 1169.4 L1556.99 1169.36 L1556.09 1169.31 L1555.2 1169.26 L1554.31 1169.2 L1553.41 1169.14 L1552.51 1169.07 L1551.61 1168.99 L1550.71 1168.91 L1549.81 1168.81 L1548.91 1168.71 L1548.01 1168.61 L1547.1 1168.49 L1546.19 1168.37 L1545.28 1168.23 L1544.37 1168.09 L1543.46 1167.94 L1542.54 1167.78 L1541.63 1167.6 L1540.71 1167.42 L1539.79 1167.22 L1538.87 1167.02 L1537.94 1166.8 L1537.02 1166.56 L1536.11 1166.32 L1535.2 1166.05 L1534.3 1165.78 L1533.41 1165.48 L1532.54 1165.17 L1531.69 1164.84 L1530.85 1164.49 L1530.03 1164.13 L1529.24 1163.74 L1528.48 1163.33 L1527.74 1162.9 L1527.03 1162.44 L1526.36 1161.96 L1525.72 1161.46 L1525.12 1160.93 L1524.56 1160.37 L1524.05 1159.79 L1523.57 1159.18 L1523.15 1158.54 L1522.77 1157.87 L1522.45 1157.18 L1522.18 1156.45 L1521.96 1155.69 L1521.79 1154.91 L1521.66 1154.1 L1521.59 1153.28 L1521.55 1152.43 L1521.56 1151.57 L1521.61 1150.7 L1521.7 1149.82 L1521.82 1148.93 L1521.98 1148.03 L1522.17 1147.12 L1522.39 1146.22 L1522.64 1145.32 L1522.92 1144.42 L1523.22 1143.53 L1523.55 1142.64 L1523.89 1141.77 L1524.26 1140.91 L1524.65 1140.06 L1525.05 1139.23 L1525.47 1138.41 L1525.9 1137.61 L1526.35 1136.82 L1526.82 1136.04 L1527.29 1135.28 L1527.79 1134.52 L1528.29 1133.78 L1528.81 1133.05 L1529.34 1132.33 L1529.88 1131.62 L1530.43 1130.91 L1530.99 1130.22 L1531.56 1129.53 L1532.14 1128.85 L1532.73 1128.18 L1533.32 1127.51 L1533.92 1126.85 L1534.53 1126.2 L1535.14 1125.54 L1535.76 1124.9 L1536.38 1124.26 L1537.01 1123.62 L1537.63 1122.98 L1538.26 1122.34 L1538.9 1121.71 L1539.53 1121.08 L1540.17 1120.45 L1540.8 1119.82 L1541.43 1119.18 L1542.07 1118.55 L1542.7 1117.92 L1543.33 1117.29 L1543.97 1116.65 L1544.6 1116.02 L1545.23 1115.39 L1545.86 1114.75 L1546.49 1114.12 L1547.12 1113.48 L1547.75 1112.85 L1548.38 1112.21 L1549.01 1111.58 L1549.64 1110.94 L1550.27 1110.31 L1550.9 1109.67 L1551.53 1109.03 L1552.15 1108.4 L1552.78 1107.76 L1553.41 1107.12 L1554.03 1106.49 L1554.66 1105.85 L1555.29 1105.21 L1555.91 1104.57 L1556.54 1103.93 L1557.16 1103.29 L1557.79 1102.65 L1558.41 1102.02 L1559.03 1101.38 L1559.66 1100.74 L1560.28 1100.1 L1560.9 1099.45 L1561.53 1098.81 L1562.15 1098.17 L1562.77 1097.53 L1563.39 1096.89 L1564.01 1096.25 L1564.63 1095.61 L1565.25 1094.97 L1565.88 1094.32 L1566.5 1093.68 L1567.12 1093.04 L1567.73 1092.39 L1568.35 1091.75 L1568.97 1091.11 L1569.59 1090.46 L1570.21 1089.82 L1570.83 1089.18 L1571.45 1088.53 L1572.06 1087.89 L1572.68 1087.24 L1573.3 1086.6 L1573.91 1085.95 L1574.53 1085.31 L1575.15 1084.66 L1575.76 1084.01 L1576.38 1083.37 L1576.99 1082.72 L1577.61 1082.07 L1578.22 1081.43 L1578.84 1080.78 L1579.45 1080.13 L1580.07 1079.49 L1580.68 1078.84 L1581.29 1078.19 L1581.91 1077.54 L1582.52 1076.9 L1583.13 1076.25 L1583.75 1075.6 L1584.36 1074.95 L1584.97 1074.3 L1585.58 1073.65 L1586.19 1073 L1586.8 1072.35 L1587.42 1071.7 L1588.03 1071.05 L1588.64 1070.4 L1589.25 1069.75 L1589.86 1069.1 L1590.47 1068.45 L1591.08 1067.8 L1591.69 1067.15 L1592.3 1066.5 L1592.91 1065.85 L1593.52 1065.2 L1594.13 1064.55 L1594.73 1063.89 L1595.34 1063.24 L1595.95 1062.59 L1596.56 1061.94 L1597.17 1061.29 L1597.78 1060.63 L1598.38 1059.98 L1598.99 1059.33 L1599.6 1058.68 L1600.21 1058.02 L1600.81 1057.37 L1601.42 1056.72 L1602.03 1056.06 L1602.63 1055.41 L1603.24 1054.76 L1603.84 1054.1 L1604.45 1053.45 L1605.06 1052.79 L1605.66 1052.14 L1606.27 1051.48 L1606.87 1050.83 L1607.48 1050.18 L1608.08 1049.52 L1608.69 1048.87 L1609.29 1048.21 L1609.9 1047.56 L1610.5 1046.9 L1611.11 1046.24 L1611.71 1045.59 L1612.31 1044.93 L1612.92 1044.28 L1613.52 1043.62 L1614.13 1042.97 L1614.73 1042.31 L1615.33 1041.65 L1615.94 1041 L1616.54 1040.34 L1617.14 1039.69 L1617.75 1039.03 L1618.35 1038.37 L1618.95 1037.72 L1619.56 1037.06 L1620.16 1036.4 L1620.76 1035.75 L1621.36 1035.09 L1621.97 1034.43 L1622.57 1033.77 L1623.17 1033.12 L1623.77 1032.46 L1624.37 1031.8 L1624.98 1031.14 L1625.58 1030.49 L1626.18 1029.83 L1626.78 1029.17 L1627.38 1028.51 L1627.99 1027.86 L1628.59 1027.2 L1629.19 1026.54 L1629.79 1025.88 L1630.39 1025.22 L1630.99 1024.57 L1631.59 1023.91 L1632.2 1023.25 L1632.8 1022.59 L1633.4 1021.93 L1634 1021.27 L1634.6 1020.61 L1635.2 1019.96 L1635.8 1019.3 L1636.4 1018.64 L1637 1017.98 L1637.61 1017.32 L1638.21 1016.66 L1638.81 1016 L1639.41 1015.35 L1640.01 1014.69 L1640.61 1014.03 L1641.21 1013.37 L1641.81 1012.71 L1642.41 1012.05 L1643.01 1011.39 L1643.61 1010.73 L1644.21 1010.07 L1644.81 1009.41 L1645.42 1008.75 L1646.02 1008.1 L1646.62 1007.44 L1647.22 1006.78 L1647.82 1006.12 L1648.42 1005.46 L1649.02 1004.8 L1649.62 1004.14 L1650.22 1003.48 L1650.82 1002.82 L1651.42 1002.16 L1652.02 1001.5 L1652.63 1000.84 L1653.23 1000.18 L1653.83 999.53 L1654.43 998.87 L1655.03 998.21 L1655.63 997.55 L1656.23 996.89 L1656.83 996.23 L1657.43 995.57 L1658.03 994.91 L1658.63 994.25 L1659.23 993.59 L1659.84 992.93 L1660.44 992.27 L1661.04 991.61 L1661.64 990.95 L1662.24 990.29 L1662.84 989.63 L1663.44 988.97 L1664.04 988.31 L1664.64 987.65 L1665.24 986.99 L1665.84 986.33 L1666.44 985.67 L1667.04 985.01 L1667.64 984.35 L1668.25 983.69 L1668.85 983.03 L1669.45 982.37 L1670.05 981.71 L1670.65 981.05 L1671.25 980.39 L1671.85 979.73 L1672.45 979.07 L1673.05 978.41 L1673.65 977.75 L1674.25 977.09 L1674.85 976.43 L1675.45 975.77 L1676.05 975.11 L1676.65 974.45 L1677.25 973.79 L1677.85 973.13 L1678.45 972.46 L1679.05 971.8 L1679.65 971.14 L1680.25 970.48 L1680.85 969.82 L1681.45 969.16 L1682.05 968.5 L1682.65 967.84 L1683.25 967.17 L1683.84 966.51 L1684.44 965.85 L1685.04 965.19 L1685.64 964.53 L1686.24 963.87 L1686.84 963.2 L1687.44 962.54 L1688.04 961.88 L1688.64 961.22 L1689.24 960.56 L1689.83 959.89 L1690.43 959.23 L1691.03 958.57 L1691.63 957.91 L1692.23 957.25 L1692.83 956.58 L1693.43 955.92 L1694.02 955.26 L1694.62 954.59 L1695.22 953.93 L1695.82 953.27 L1696.41 952.61 L1697.01 951.94 L1697.61 951.28 L1698.21 950.62 L1698.8 949.95 L1699.4 949.29 L1700 948.63 L1700.6 947.96 L1701.19 947.3 L1701.79 946.63 L1702.39 945.97 L1702.98 945.31 L1703.58 944.64 L1704.18 943.98 L1704.77 943.31 L1705.37 942.65 L1705.97 941.98 L1706.56 941.32 L1707.16 940.65 L1707.75 939.99 L1708.35 939.32 L1708.94 938.66 L1709.54 937.99 L1710.14 937.33 L1710.73 936.66 L1711.33 936 L1711.92 935.33 L1712.52 934.67 L1713.11 934 L1713.71 933.34 L1714.3 932.67 L1714.89 932 L1715.49 931.34 L1716.08 930.67 L1716.68 930 L1717.27 929.34 L1717.86 928.67 L1718.46 928 L1719.05 927.34 L1719.64 926.67 L1720.24 926 L1720.83 925.34 L1721.42 924.67 L1722.02 924 L1722.61 923.33 L1723.2 922.66 L1723.79 922 L1724.39 921.33 L1724.98 920.66 L1725.57 919.99 L1726.16 919.32 L1726.75 918.65 L1727.34 917.99 L1727.93 917.32 L1728.53 916.65 L1729.12 915.98 L1729.71 915.31 L1730.3 914.64 L1730.89 913.97 L1731.48 913.3 L1732.07 912.63 L1732.66 911.96 L1733.25 911.29 L1733.84 910.62 L1734.43 909.95 L1735.02 909.28 L1735.61 908.61 L1736.19 907.94 L1736.78 907.27 L1737.37 906.6 L1737.96 905.92 L1738.55 905.25 L1739.14 904.58 L1739.72 903.91 L1740.31 903.24 L1740.9 902.57 L1741.49 901.89 L1742.07 901.22 L1742.66 900.55 L1743.25 899.88 L1743.83 899.2 L1744.42 898.53 L1745.01 897.86 L1745.59 897.18 L1746.18 896.51 L1746.76 895.84 L1747.35 895.16 L1747.93 894.49 L1748.52 893.81 L1749.1 893.14 L1749.69 892.47 L1750.27 891.79 L1750.86 891.12 L1751.44 890.44 L1752.02 889.77 L1752.61 889.09 L1753.19 888.42 L1753.77 887.74 L1754.36 887.06 L1754.94 886.39 L1755.52 885.71 L1756.1 885.04 L1756.69 884.36 L1757.27 883.68 L1757.85 883.01 L1758.43 882.33 L1759.01 881.65 L1759.59 880.97 L1760.17 880.3 L1760.75 879.62 L1761.33 878.94 L1761.91 878.26 L1762.49 877.58 L1763.07 876.9 L1763.65 876.23 L1764.23 875.55 L1764.81 874.87 L1765.39 874.19 L1765.97 873.51 L1766.54 872.83 L1767.12 872.15 L1767.7 871.47 L1768.28 870.79 L1768.85 870.11 L1769.43 869.43 L1770.01 868.75 L1770.58 868.07 L1771.16 867.38 L1771.74 866.7 L1772.31 866.02 L1772.89 865.34 L1773.46 864.66 L1774.04 863.97 L1774.61 863.29 L1775.19 862.61 L1775.76 861.93 L1776.33 861.24 L1776.91 860.56 L1777.48 859.88 L1778.05 859.19 L1778.63 858.51 L1779.2 857.82 L1779.77 857.14 L1780.34 856.45 L1780.91 855.77 L1781.49 855.08 L1782.06 854.4 L1782.63 853.71 L1783.2 853.03 L1783.77 852.34 L1784.34 851.66 L1784.91 850.97 L1785.48 850.28 L1786.05 849.6 L1786.62 848.91 L1787.18 848.22 L1787.75 847.53 L1788.32 846.85 L1788.89 846.16 L1789.45 845.47 L1790.02 844.78 L1790.59 844.09 L1791.16 843.4 L1791.72 842.71 L1792.29 842.02 L1792.85 841.33 L1793.42 840.64 L1793.98 839.95 L1794.55 839.26 L1795.11 838.57 L1795.68 837.88 L1796.24 837.19 L1796.8 836.5 L1797.37 835.81 L1797.93 835.12 L1798.49 834.42 L1799.05 833.73 L1799.62 833.04 L1800.18 832.35 L1800.74 831.65 L1801.3 830.96 L1801.86 830.27 L1802.42 829.57 L1802.98 828.88 L1803.54 828.18 L1804.1 827.49 L1804.66 826.8 L1805.22 826.1 L1805.78 825.4 L1806.33 824.71 L1806.89 824.01 L1807.45 823.32 L1808.01 822.62 L1808.56 821.92 L1809.12 821.23 L1809.67 820.53 L1810.23 819.83 L1810.79 819.13 L1811.34 818.44 L1811.9 817.74 L1812.45 817.04 L1813 816.34 L1813.56 815.64 L1814.11 814.94 L1814.66 814.24 L1815.22 813.54 L1815.77 812.84 L1816.32 812.14 L1816.87 811.44 L1817.42 810.74 L1817.97 810.04 L1818.52 809.34" fill="none" stroke="#ff0000" stroke-width="5.8" stroke-linejoin="round" stroke-linecap="round" clip-path="url(#cd)"/>
<line x1="1129.6" y1="1362.5" x2="1129.6" y2="1353" stroke="#4e4e4e" stroke-width="1.3" />
<line x1="1129.6" y1="809.3" x2="1129.6" y2="818.8" stroke="#4e4e4e" stroke-width="1.3" />
<line x1="1268.95" y1="1362.5" x2="1268.95" y2="1353" stroke="#4e4e4e" stroke-width="1.3" />
<line x1="1268.95" y1="809.3" x2="1268.95" y2="818.8" stroke="#4e4e4e" stroke-width="1.3" />
<line x1="1408.3" y1="1362.5" x2="1408.3" y2="1353" stroke="#4e4e4e" stroke-width="1.3" />
<line x1="1408.3" y1="809.3" x2="1408.3" y2="818.8" stroke="#4e4e4e" stroke-width="1.3" />
<line x1="1547.65" y1="1362.5" x2="1547.65" y2="1353" stroke="#4e4e4e" stroke-width="1.3" />
<line x1="1547.65" y1="809.3" x2="1547.65" y2="818.8" stroke="#4e4e4e" stroke-width="1.3" />
<line x1="1687" y1="1362.5" x2="1687" y2="1353" stroke="#4e4e4e" stroke-width="1.3" />
<line x1="1687" y1="809.3" x2="1687" y2="818.8" stroke="#4e4e4e" stroke-width="1.3" />
<line x1="1826.35" y1="1362.5" x2="1826.35" y2="1353" stroke="#4e4e4e" stroke-width="1.3" />
<line x1="1826.35" y1="809.3" x2="1826.35" y2="818.8" stroke="#4e4e4e" stroke-width="1.3" />
<line x1="1965.7" y1="1362.5" x2="1965.7" y2="1353" stroke="#4e4e4e" stroke-width="1.3" />
<line x1="1965.7" y1="809.3" x2="1965.7" y2="818.8" stroke="#4e4e4e" stroke-width="1.3" />
<line x1="1129.6" y1="1362.5" x2="1139.1" y2="1362.5" stroke="#4e4e4e" stroke-width="1.3" />
<line x1="1965.7" y1="1362.5" x2="1956.2" y2="1362.5" stroke="#4e4e4e" stroke-width="1.3" />
<line x1="1129.6" y1="1251.86" x2="1139.1" y2="1251.86" stroke="#4e4e4e" stroke-width="1.3" />
<line x1="1965.7" y1="1251.86" x2="1956.2" y2="1251.86" stroke="#4e4e4e" stroke-width="1.3" />
<line x1="1129.6" y1="1141.22" x2="1139.1" y2="1141.22" stroke="#4e4e4e" stroke-width="1.3" />
<line x1="1965.7" y1="1141.22" x2="1956.2" y2="1141.22" stroke="#4e4e4e" stroke-width="1.3" />
<line x1="1129.6" y1="1030.58" x2="1139.1" y2="1030.58" stroke="#4e4e4e" stroke-width="1.3" />
<line x1="1965.7" y1="1030.58" x2="1956.2" y2="1030.58" stroke="#4e4e4e" stroke-width="1.3" />
<line x1="1129.6" y1="919.94" x2="1139.1" y2="919.94" stroke="#4e4e4e" stroke-width="1.3" />
<line x1="1965.7" y1="919.94" x2="1956.2" y2="919.94" stroke="#4e4e4e" stroke-width="1.3" />
<line x1="1129.6" y1="809.3" x2="1139.1" y2="809.3" stroke="#4e4e4e" stroke-width="1.3" />
<line x1="1965.7" y1="809.3" x2="1956.2" y2="809.3" stroke="#4e4e4e" stroke-width="1.3" />
<rect x="1129.6" y="809.3" width="836.1" height="553.2" fill="none" stroke="#4e4e4e" stroke-width="1.3"/>
<text x="1129.6" y="1414.5" font-size="42" text-anchor="middle" fill="#1c1c1c" font-family="'Liberation Serif','Times New Roman',serif" font-weight="normal" >0</text>
<text x="1268.95" y="1414.5" font-size="42" text-anchor="middle" fill="#1c1c1c" font-family="'Liberation Serif','Times New Roman',serif" font-weight="normal" >0.005</text>
<text x="1408.3" y="1414.5" font-size="42" text-anchor="middle" fill="#1c1c1c" font-family="'Liberation Serif','Times New Roman',serif" font-weight="normal" >0.01</text>
<text x="1547.65" y="1414.5" font-size="42" text-anchor="middle" fill="#1c1c1c" font-family="'Liberation Serif','Times New Roman',serif" font-weight="normal" >0.015</text>
<text x="1687" y="1414.5" font-size="42" text-anchor="middle" fill="#1c1c1c" font-family="'Liberation Serif','Times New Roman',serif" font-weight="normal" >0.02</text>
<text x="1826.35" y="1414.5" font-size="42" text-anchor="middle" fill="#1c1c1c" font-family="'Liberation Serif','Times New Roman',serif" font-weight="normal" >0.025</text>
<text x="1965.7" y="1414.5" font-size="42" text-anchor="middle" fill="#1c1c1c" font-family="'Liberation Serif','Times New Roman',serif" font-weight="normal" >0.03</text>
<text x="1112.5" y="1377.6" font-size="42" text-anchor="end" fill="#1c1c1c" font-family="'Liberation Serif','Times New Roman',serif" font-weight="normal" >6</text>
<text x="1112.5" y="1266.96" font-size="42" text-anchor="end" fill="#1c1c1c" font-family="'Liberation Serif','Times New Roman',serif" font-weight="normal" >9</text>
<text x="1112.5" y="1156.32" font-size="42" text-anchor="end" fill="#1c1c1c" font-family="'Liberation Serif','Times New Roman',serif" font-weight="normal" >12</text>
<text x="1112.5" y="1045.68" font-size="42" text-anchor="end" fill="#1c1c1c" font-family="'Liberation Serif','Times New Roman',serif" font-weight="normal" >15</text>
<text x="1112.5" y="935.04" font-size="42" text-anchor="end" fill="#1c1c1c" font-family="'Liberation Serif','Times New Roman',serif" font-weight="normal" >18</text>
<text x="1112.5" y="824.4" font-size="42" text-anchor="end" fill="#1c1c1c" font-family="'Liberation Serif','Times New Roman',serif" font-weight="normal" >21</text>
<text x="1058.8" y="1085.9" font-size="47" text-anchor="middle" fill="#1c1c1c" font-family="'Liberation Serif','Times New Roman',serif" font-weight="normal" transform="rotate(-90 1058.8 1085.9)">Frequency (GHz)</text>
<text x="1547.2" y="1468.7" font-size="47.5" text-anchor="middle" fill="#1c1c1c" font-family="'Liberation Serif','Times New Roman',serif" font-weight="normal" >-Im {<tspan font-style="italic">&#954;</tspan>a} (Np)</text>
<text x="1509.4" y="1544.5" font-size="38.5" text-anchor="middle" fill="#000" font-family="'Liberation Sans',Arial,sans-serif" font-weight="bold" >(d)</text>
</svg>
</body></html>
